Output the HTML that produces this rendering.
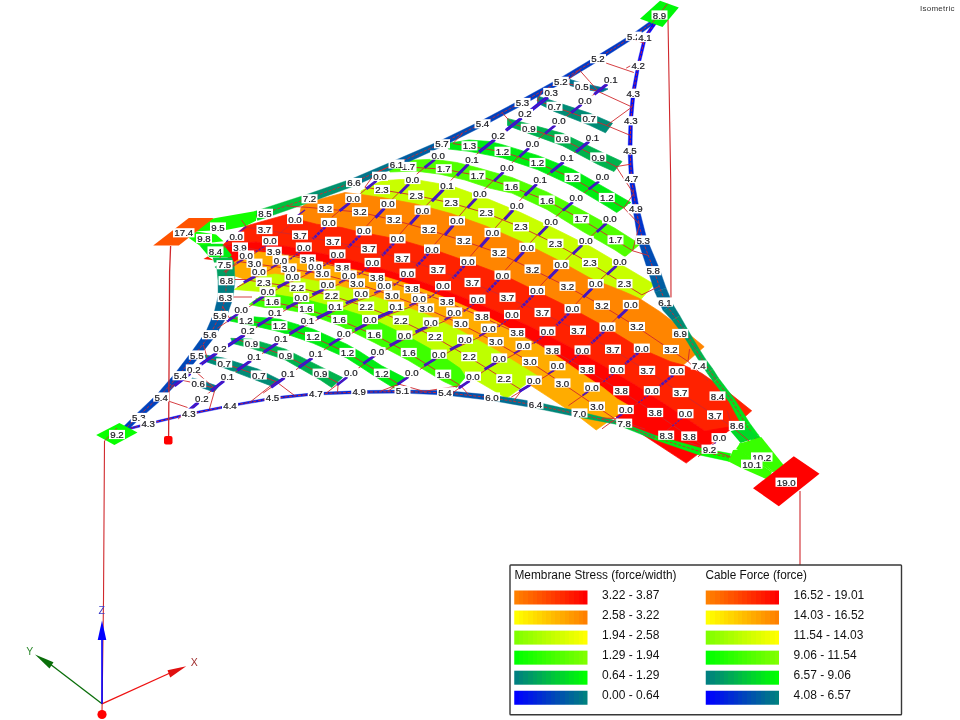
<!DOCTYPE html>
<html><head><meta charset="utf-8"><title>Isometric</title>
<style>
html,body{margin:0;padding:0;background:#fff;}
body{width:960px;height:720px;overflow:hidden;font-family:"Liberation Sans",sans-serif;}
svg{display:block;will-change:transform;}
svg text{font-family:"Liberation Sans",sans-serif;}
#labels text{stroke:#1a1a20;stroke-width:0.22px;}
</style></head><body>
<svg width="960" height="720" viewBox="0 0 960 720">
<rect width="960" height="720" fill="#fff"/>
<g id="bands">
<polygon points="570,79.5 581.8,83 608,89 602,92 581.8,89 570,85.5" fill="#00738d" stroke="#00738d" stroke-width="0.7" stroke-linejoin="round"/>
<polygon points="537.5,96 554.5,101.5 589.2,113 612.5,123.2 605.5,132.8 589.2,125 554.5,111.5 537.5,103" fill="#008b75" stroke="#008b75" stroke-width="0.7" stroke-linejoin="round"/>
<polygon points="507.5,118.5 528.8,124 562.5,133.3 598.2,150.5 622,161.5 614,171.5 598.2,164.5 562.5,145.7 528.8,133.4 507.5,125.5" fill="#00b24d" stroke="#00b24d" stroke-width="0.7" stroke-linejoin="round"/>
<polygon points="448.3,143.3 469,140 490,141.5 502.5,144.7 537.5,155.4 572.5,169.2 606.8,188.7 630.8,202.5 616.7,212.5 606.8,206.3 572.5,185.8 537.5,169.6 502.5,157.8 469,151.3 448.3,149" fill="#00ed12" stroke="#00ed12" stroke-width="0.7" stroke-linejoin="round"/>
<polygon points="388.3,168.3 410,160.3 433.3,159.2 456.7,162.5 476.7,167.5 511.9,177.5 546.9,191.9 581.7,210 615,228.3 640,244.2 625,256.7 615,250 581.7,230.8 546.9,209.4 511.9,193.1 490,188.3 465,180 440,174.2 415,171 390,172" fill="#51ff00" stroke="#51ff00" stroke-width="0.7" stroke-linejoin="round"/>
<polygon points="361,191 370,186 382.5,180.8 400,179.5 416.3,179.7 451.3,185.8 485.8,198 521.2,212.8 555.8,229.2 590.8,246.7 624.7,266.7 654.2,284.2 639.2,301.3 625,295 591,281.5 556,262 521,244.5 486,229 451,216.5 416,207 382,200.5 361,197.5" fill="#c8ff00" stroke="#c8ff00" stroke-width="0.7" stroke-linejoin="round"/>
<polygon points="300,213 301,207.5 307.5,202.5 318.8,199.4 345,192.5 361,194.5 382,197.5 416,204 451,213.5 486,226 521,241.5 556,259 591,278.5 625,292 639.2,298.3 660,311.7 680,326.7 704.2,346.7 683.3,365 670.8,364.7 641.7,352.2 607.2,331 572.3,311.7 537.5,294.7 503.3,278 468,264.7 432.5,252.2 398,242.2 360,235 341.7,230.5 316.7,227.2 300,223" fill="#ff8500" stroke="#ff8500" stroke-width="0.7" stroke-linejoin="round"/>
<polygon points="222,245.5 245.2,226.2 286.7,214.5 291,218 300,220 316.7,224.2 341.7,227.5 360,232 398,239.2 432.5,249.2 468,261.7 503.3,275 537.5,291.7 572.3,308.7 607.2,328 641.7,349.2 670.8,361.7 683.3,365 701.7,373.3 726.7,390.8 751.7,410.8 731.7,428.3 705,431 671,408 637,386 603,365.5 568,346 533,328 498,312 463,297.5 428,284 393,272 358,262 324,254 290,247 256,242 222,245.5" fill="#ff2200" stroke="#ff2200" stroke-width="0.7" stroke-linejoin="round"/>
<polygon points="222,245.5 256,242 290,247 324,254 358,262 393,272 428,284 463,297.5 498,312 533,328 568,346 603,365.5 637,386 671,408 705,431 735,426 686.2,463.1 616.2,417.2 590,383 561,362.8 536,347 517,336.5 481.7,317.5 446.7,302.3 411.7,289 376.7,278.2 342.5,271.5 326.7,267.5 308.3,262.5 293.3,259.8 275,257.3 256.7,255.7 243.3,260.7 232.5,266 222,245.5" fill="#ff0400" stroke="#ff0400" stroke-width="0.7" stroke-linejoin="round"/>
<polygon points="232.5,263.3 243.3,256.7 256.7,251.7 275,253.3 293.3,255.8 308.3,258.5 326.7,263.5 342.5,267.5 376.7,274.2 411.7,285 446.7,298.3 481.7,313.5 517,332.5 536,343 561,358.8 590,379 603,387.5 617.5,399 630,406.2 596.2,430 580,417.5 527.2,383.1 495.8,353 460.8,333.8 426.7,317.5 395.8,306.7 356.7,293.8 326.7,286 292.5,279.7 275,277 262,279 250,281 235,276" fill="#ffac00" stroke="#ffac00" stroke-width="0.7" stroke-linejoin="round"/>
<polygon points="250,278 262,276 275,274 292.5,276.7 326.7,283 356.7,290.8 395.8,303.7 426.7,314.5 460.8,330.8 495.8,350 520,365 537.3,375.7 506.7,398.3 462,372 438.3,356.3 404.2,337.2 369.2,320.5 340,311.5 305.8,302.5 275,297.5 260,291.5 234.5,289.5" fill="#beff00" stroke="#beff00" stroke-width="0.7" stroke-linejoin="round"/>
<polygon points="249,304.5 260,296.5 275,294.5 305.8,299.5 340,308.5 369.2,317.5 404.2,334.2 438.3,353.3 460,368.3 465.8,376.7 456.7,387.5 443.3,381.3 408.3,360.3 374.2,342.5 340,325.8 305.8,313.3 280,308.5 265,307.5 249,304.5" fill="#3eff00" stroke="#3eff00" stroke-width="0.7" stroke-linejoin="round"/>
<polygon points="230,317 250,316.5 279.7,319.2 313.3,329.2 346.7,344.2 360,351.7 381.7,365.8 405.8,378.3 394.2,388.3 376.7,377.5 360,366.5 346.7,358 313.3,343.3 279.7,331.7 250,325 230,321" fill="#00ed12" stroke="#00ed12" stroke-width="0.7" stroke-linejoin="round"/>
<polygon points="230.8,338.3 251.7,339.2 285.5,349.2 320.5,366.7 342.5,377.5 331.7,387.5 320.5,380 285.5,360 251.7,348.3 233,343.5" fill="#00b24d" stroke="#00b24d" stroke-width="0.7" stroke-linejoin="round"/>
<polygon points="205,355 223.3,358 258.3,369.2 280,380 273.3,386.7 258.3,381 223.3,367.5 207,362" fill="#008b75" stroke="#008b75" stroke-width="0.7" stroke-linejoin="round"/>
<polygon points="192,378 200,380 218.5,386.5 214,392 200,387 193,384" fill="#007789" stroke="#007789" stroke-width="0.7" stroke-linejoin="round"/>
</g>
<g id="cables">
<polygon points="257.5,220.4 266.5,217.5 263.5,208.5 254.5,211.4" fill="#00e31d" stroke="#00e31d" stroke-width="0.4"/>
<polygon points="266.5,217.5 310.9,202 308.1,194 263.5,208.5" fill="#00c13e" stroke="#00c13e" stroke-width="0.4"/>
<polygon points="310.9,202 355.4,185.5 352.6,178.5 308.1,194" fill="#00916f" stroke="#00916f" stroke-width="0.4"/>
<polygon points="355.4,185.5 397.9,166.7 395.1,160.3 352.6,178.5" fill="#00758b" stroke="#00758b" stroke-width="0.4"/>
<polygon points="397.9,166.7 443.3,146 440.7,140.5 395.1,160.3" fill="#005ea2" stroke="#005ea2" stroke-width="0.4"/>
<polygon points="443.3,146 483.8,125.7 481.2,120.8 440.7,140.5" fill="#004cb4" stroke="#004cb4" stroke-width="0.4"/>
<polygon points="483.8,125.7 523.8,104.4 521.2,99.6 481.2,120.8" fill="#0041be" stroke="#0041be" stroke-width="0.4"/>
<polygon points="523.8,104.4 562.1,83.1 559.4,78.4 521.2,99.6" fill="#003cc3" stroke="#003cc3" stroke-width="0.4"/>
<polygon points="562.1,83.1 599.3,60.4 596.7,56.1 559.4,78.4" fill="#003ac6" stroke="#003ac6" stroke-width="0.4"/>
<polygon points="599.3,60.4 635,37.6 632.5,33.9 596.7,56.1" fill="#003ac6" stroke="#003ac6" stroke-width="0.4"/>
<polygon points="635,37.6 654.3,23.8 651.7,20.2 632.5,33.9" fill="#003ac6" stroke="#003ac6" stroke-width="0.4"/>
<polyline points="256,215.9 265,213 309.5,198 354,182 396.5,163.5 442,143.2 482.5,123.2 522.5,102 560.8,80.8 598,58.2 633.8,35.8 653,22" fill="none" stroke="#d0282c" stroke-width="0.9" stroke-dasharray="3 1.5"/>
<polygon points="653.8,22.1 643.6,36.9 646.4,38.1 656.2,23.9" fill="#0001fe" stroke="#0001fe" stroke-width="0.4"/>
<polygon points="643.6,36.9 636.8,65.2 639.7,65.8 646.4,38.1" fill="#0004fb" stroke="#0004fb" stroke-width="0.4"/>
<polygon points="636.8,65.2 631.5,93 635,93.5 639.7,65.8" fill="#0009f6" stroke="#0009f6" stroke-width="0.4"/>
<polygon points="631.5,93 629,120.6 632.5,120.9 635,93.5" fill="#000bf4" stroke="#000bf4" stroke-width="0.4"/>
<polygon points="629,120.6 628,150 632,150 632.5,120.9" fill="#0010ef" stroke="#0010ef" stroke-width="0.4"/>
<polygon points="628,150 629.3,178.7 633.7,178.3 632,150" fill="#001be4" stroke="#001be4" stroke-width="0.4"/>
<polygon points="629.3,178.7 633,209.3 639,208.2 633.7,178.3" fill="#0025da" stroke="#0025da" stroke-width="0.4"/>
<polygon points="633,209.3 638.2,241.2 646.8,238.8 639,208.2" fill="#0034cb" stroke="#0034cb" stroke-width="0.4"/>
<polygon points="638.2,241.2 648.6,272.7 659.4,268.8 646.8,238.8" fill="#004cb4" stroke="#004cb4" stroke-width="0.4"/>
<polygon points="648.6,272.7 654.9,292.1 666.1,287.9 659.4,268.8" fill="#005ea2" stroke="#005ea2" stroke-width="0.4"/>
<polygon points="654.9,292.1 663,310.4 673,304.6 666.1,287.9" fill="#006a95" stroke="#006a95" stroke-width="0.4"/>
<polygon points="663,310.4 672.3,320.6 679.7,315.4 673,304.6" fill="#007c83" stroke="#007c83" stroke-width="0.4"/>
<polygon points="672.3,320.6 680,330.4 686,326.6 679.7,315.4" fill="#008e72" stroke="#008e72" stroke-width="0.4"/>
<polygon points="680,330.4 687.2,341.7 692.8,338.3 686,326.6" fill="#009e62" stroke="#009e62" stroke-width="0.4"/>
<polygon points="687.2,341.7 693.2,351.7 698.8,348.3 692.8,338.3" fill="#00aa55" stroke="#00aa55" stroke-width="0.4"/>
<polygon points="693.2,351.7 700.3,362.8 705.7,359.2 698.8,348.3" fill="#00b24e" stroke="#00b24e" stroke-width="0.4"/>
<polygon points="700.3,362.8 707.1,373 712.9,369 705.7,359.2" fill="#00b748" stroke="#00b748" stroke-width="0.4"/>
<polygon points="707.1,373 713.4,381.9 718.6,378.1 712.9,369" fill="#00bf41" stroke="#00bf41" stroke-width="0.4"/>
<polygon points="713.4,381.9 729,401.7 734,398.3 718.6,378.1" fill="#00d12f" stroke="#00d12f" stroke-width="0.4"/>
<polygon points="729,401.7 743.1,427.7 749.9,423.3 734,398.3" fill="#00e31d" stroke="#00e31d" stroke-width="0.4"/>
<polygon points="743.1,427.7 751.1,440 758.5,435 749.9,423.3" fill="#00e31d" stroke="#00e31d" stroke-width="0.4"/>
<polygon points="751.1,440 755.2,446.4 762.8,441.6 758.5,435" fill="#00dd22" stroke="#00dd22" stroke-width="0.4"/>
<polyline points="655,23 645,37.5 638.2,65.5 633.2,93.2 630.8,120.8 630,150 631.5,178.5 636,208.8 642.5,240 654,270.8 660.5,290 668,307.5 676,318 683,328.5 690,340 696,350 703,361 710,371 716,380 731.5,400 746.5,425.5 754.8,437.5 759,444" fill="none" stroke="#d0282c" stroke-width="0.9" stroke-dasharray="3 1.5"/>
<polygon points="126.2,430.5 148.5,424.8 148,422.8 125.8,428.5" fill="#000bf4" stroke="#000bf4" stroke-width="0.4"/>
<polygon points="148.5,424.8 189,415 188.5,413.1 148,422.8" fill="#000bf4" stroke="#000bf4" stroke-width="0.4"/>
<polygon points="189,415 230.2,406.8 229.8,404.8 188.5,413.1" fill="#000ef1" stroke="#000ef1" stroke-width="0.4"/>
<polygon points="230.2,406.8 272.7,399.5 272.3,397.1 229.8,404.8" fill="#0013ec" stroke="#0013ec" stroke-width="0.4"/>
<polygon points="272.7,399.5 315.8,395 315.7,392.6 272.3,397.1" fill="#001be4" stroke="#001be4" stroke-width="0.4"/>
<polygon points="315.8,395 359.3,393.5 359.2,390.6 315.7,392.6" fill="#0025da" stroke="#0025da" stroke-width="0.4"/>
<polygon points="359.3,393.5 402.5,393.1 402.5,390 359.2,390.6" fill="#002fd0" stroke="#002fd0" stroke-width="0.4"/>
<polygon points="402.5,393.1 444.8,395 445.2,390.6 402.5,390" fill="#003cc3" stroke="#003cc3" stroke-width="0.4"/>
<polygon points="444.8,395 491.6,400.5 492.4,395.1 445.2,390.6" fill="#0053ac" stroke="#0053ac" stroke-width="0.4"/>
<polygon points="491.6,400.5 534.9,408.1 536.1,402 492.4,395.1" fill="#006d93" stroke="#006d93" stroke-width="0.4"/>
<polygon points="534.9,408.1 578.9,417.2 580.1,411.8 536.1,402" fill="#008779" stroke="#008779" stroke-width="0.4"/>
<polygon points="578.9,417.2 615.7,424.2 616.8,420.8 580.1,411.8" fill="#00aa55" stroke="#00aa55" stroke-width="0.4"/>
<polygon points="615.7,424.2 654.3,439.6 655.7,435.4 616.8,420.8" fill="#00cc34" stroke="#00cc34" stroke-width="0.4"/>
<polygon points="654.3,439.6 699.1,454.9 700.9,448.1 655.7,435.4" fill="#00ef10" stroke="#00ef10" stroke-width="0.4"/>
<polygon points="699.1,454.9 729.2,461.4 730.8,453.6 700.9,448.1" fill="#07ff00" stroke="#07ff00" stroke-width="0.4"/>
<polyline points="126,429.5 148.2,423.8 188.8,414.1 230,405.8 272.5,398.3 315.8,393.8 359.2,392.1 402.5,391.6 445,392.8 492,397.8 535.5,405.1 579.5,414.5 616.2,422.5 655,437.5 700,451.5 730,457.5" fill="none" stroke="#d0282c" stroke-width="0.9" stroke-dasharray="3 1.5"/>
<polygon points="214.9,267 216.9,268.8 234.1,263.2 231.1,257" fill="#00b050" stroke="#00b050" stroke-width="0.4"/>
<polygon points="216.9,268.8 218,280.8 235,280.7 234.1,263.2" fill="#009e62" stroke="#009e62" stroke-width="0.4"/>
<polygon points="218,280.8 218.1,296.2 232.9,298.8 235,280.7" fill="#007f81" stroke="#007f81" stroke-width="0.4"/>
<polygon points="218.1,296.2 214,313 226,318 232.9,298.8" fill="#006898" stroke="#006898" stroke-width="0.4"/>
<polygon points="214,313 205.8,332.1 214.2,337.4 226,318" fill="#0056aa" stroke="#0056aa" stroke-width="0.4"/>
<polygon points="205.8,332.1 191.2,352.3 198.3,357.7 214.2,337.4" fill="#004cb4" stroke="#004cb4" stroke-width="0.4"/>
<polygon points="191.2,352.3 175.3,373.1 181.7,378.4 198.3,357.7" fill="#0046b9" stroke="#0046b9" stroke-width="0.4"/>
<polygon points="175.3,373.1 156.8,394.5 161.7,399.5 181.7,378.4" fill="#0044bc" stroke="#0044bc" stroke-width="0.4"/>
<polygon points="156.8,394.5 134.8,415.4 138.7,419.6 161.7,399.5" fill="#0041be" stroke="#0041be" stroke-width="0.4"/>
<polygon points="134.8,415.4 122.1,428 125.9,432 138.7,419.6" fill="#003fc1" stroke="#003fc1" stroke-width="0.4"/>
<polyline points="223,262 225.5,266 226.5,280.8 225.5,297.5 220,315.5 210,334.8 194.8,355 178.5,375.8 159.2,397 136.8,417.5 124,430" fill="none" stroke="#d0282c" stroke-width="0.9" stroke-dasharray="3 1.5"/>
</g>
<g id="corners">
<polygon points="730.6,431.2 745,427 758.8,436.9 740.6,443.1" fill="#00d827"/>
<polygon points="738.8,443.8 761.2,436.9 785.6,467.5 773.8,471.9" fill="#38ff00"/>
<polygon points="728.1,461.2 733.1,450 738.8,449.4 771.9,471.9 768.5,480 741.2,468.1" fill="#38ff00"/>
<polygon points="736.2,448.8 740,443.1 773.8,471.9 771.9,471.9" fill="#38ff00"/>
<polygon points="196.8,223.7 214.3,218.2 256,211 256,220.8 245.2,226.2 226,229.9 196.8,231.2" fill="#12ff00"/>
<polygon points="186.8,236.6 196.8,231.6 216,234.5 223.5,241.2 212,242.5 209.3,245.3 199.3,245.3" fill="#12ff00"/>
<polygon points="199.3,245.3 212.7,243.7 222.7,243.7 231.8,255.3 229.3,257.4 209.3,257" fill="#00ed12"/>
<polygon points="212.7,257.4 231.8,257.4 233.5,262.5 214,262.5" fill="#00ba46"/>
<polygon points="203.5,259 207.7,256.6 213.5,260.3" fill="#ff1a00"/>
<polygon points="188.8,218 213.8,218 178.8,245.5 153.2,245.5" fill="#ff5300"/>
<polygon points="660,0.8 678.8,7.5 662.5,27 640,18.8" fill="#00f708"/>
<polygon points="96.2,435 119.4,423.1 137.5,432.5 114.4,445" fill="#07ff00"/>
<polygon points="793.8,456.2 819.5,473.8 778.8,506.2 753,488.2" fill="#ff0100"/>
</g>
<g id="net" stroke="#d0282c" stroke-width="0.9" fill="none">
<polyline points="563.8,82.8 581.8,86.8 599.8,91.8"/>
<polyline points="537.1,100.5 554.5,106.8 589.2,119.2 606.6,125.5"/>
<polyline points="511.9,123.5 528.8,128.8 562.5,139.2 598.2,157.5 616.1,166.6"/>
<polyline points="453,143.5 469.5,146.2 502.5,151.8 537.5,163 572.5,178 606.8,198 623.9,208"/>
<polyline points="390.9,165.9 408.5,167 443.8,169.2 477.5,175.5 511.5,186.8 546.8,200.5 581.2,219.2 615.5,240.2 632.6,250.8"/>
<polyline points="364.9,187.2 382,190 416.2,195.5 451.2,203 486.2,213.2 521,227.2 555.5,243.8 590,263.2 624.5,284.2 641.8,294.8"/>
<polyline points="308.2,207.4 325.5,209 360,212.2 393.8,220 428.8,229.8 463.8,241 498.8,253.2 532.5,269.5 567.5,286.8 602,305.5 637,327 671,350 688,361.5"/>
<polyline points="246.8,227.2 264.5,230 300,235.5 333,241.8 368.8,249.2 402.2,258.5 437.5,270 472.5,283 507.5,297.8 542.5,313 578,330.8 613,349.8 647.2,370.9 680.6,393 715,415.5 732.2,426.8"/>
<polyline points="223.1,245.4 240,247.5 273.8,251.8 307.8,259.5 342.5,268 376.8,278 411.8,289.2 446.8,302.2 481.8,316.8 517.2,333.2 552.5,350.5 586.8,370 621.2,391.2 655.2,413 689.2,436.5 706.2,448.2"/>
<polyline points="237.4,261.4 254.5,263.8 288.8,268.5 322.5,274.2 357,283.5 391.8,295.5 426.2,308.5 460.8,324 495.8,342.2 530,362 562.5,383.5 597,406.8 614.2,418.4"/>
<polyline points="246.9,280 263.8,282.5 297.5,287.5 331.5,295.8 366.2,306.8 400.8,320.5 435,337.2 469.2,357.2 504.2,379.2 521.8,390.2"/>
<polyline points="255.8,298.9 272.5,302.2 306,309 339.2,320 374.2,334.8 408.8,353 443.2,374.8 460.5,385.6"/>
<polyline points="228.9,317.6 245.8,320.5 279.5,326.2 313,337 347.5,353 381.8,373.8 398.9,384.1"/>
<polyline points="234.5,338.6 251.5,344.2 285.5,355.5 320.6,373.8 338.2,382.9"/>
<polyline points="207,357.5 224.2,363.5 258.8,375.5 276,381.5"/>
<polyline points="180.2,379.8 198.2,383.8 216.2,388.8"/>
<line x1="564.8" y1="82.8" x2="579.4" y2="70"/>
<line x1="598.8" y1="91.8" x2="579.4" y2="70"/>
<line x1="598.8" y1="91.8" x2="632" y2="107"/>
<line x1="537.1" y1="100.5" x2="541.6" y2="91.9"/>
<line x1="606.6" y1="125.5" x2="630.4" y2="135.4"/>
<line x1="606.6" y1="125.5" x2="632" y2="107"/>
<line x1="511.9" y1="123.5" x2="502.5" y2="113.1"/>
<line x1="616.1" y1="166.6" x2="630.8" y2="164.2"/>
<line x1="616.1" y1="166.6" x2="633.6" y2="193.6"/>
<line x1="453" y1="143.5" x2="462.2" y2="133.8"/>
<line x1="623.9" y1="208" x2="633.6" y2="193.6"/>
<line x1="623.9" y1="208" x2="639.5" y2="224.4"/>
<line x1="390.9" y1="165.9" x2="375.2" y2="173.2"/>
<line x1="632.6" y1="250.8" x2="648.2" y2="255.4"/>
<line x1="632.6" y1="250.8" x2="639.5" y2="224.4"/>
<line x1="364.9" y1="187.2" x2="375.2" y2="173.2"/>
<line x1="641.8" y1="294.8" x2="659.1" y2="286.4"/>
<line x1="308.2" y1="207.4" x2="287.2" y2="206"/>
<line x1="688" y1="361.5" x2="689.5" y2="349.2"/>
<line x1="688" y1="361.5" x2="708.1" y2="380.5"/>
<line x1="246.8" y1="227.2" x2="241.5" y2="220.1"/>
<line x1="732.2" y1="426.8" x2="727.1" y2="410.8"/>
<line x1="732.2" y1="426.8" x2="749.2" y2="441.2"/>
<line x1="223.1" y1="245.4" x2="220" y2="257.9"/>
<line x1="706.2" y1="448.2" x2="687.9" y2="442.2"/>
<line x1="706.2" y1="448.2" x2="730.6" y2="456.8"/>
<line x1="237.4" y1="261.4" x2="225.5" y2="272.8"/>
<line x1="614.2" y1="418.4" x2="601.9" y2="418.1"/>
<line x1="614.2" y1="418.4" x2="645.2" y2="429.2"/>
<line x1="521.8" y1="390.2" x2="513.8" y2="400.6"/>
<line x1="460.5" y1="385.6" x2="468.5" y2="394.5"/>
<line x1="460.5" y1="385.6" x2="423.8" y2="391.4"/>
<line x1="228.9" y1="317.6" x2="222.8" y2="306.5"/>
<line x1="398.9" y1="384.1" x2="380.9" y2="391"/>
<line x1="398.9" y1="384.1" x2="423.8" y2="391.4"/>
<line x1="338.2" y1="382.9" x2="337.5" y2="392.1"/>
<line x1="207" y1="357.5" x2="203.4" y2="344.9"/>
<line x1="276" y1="381.5" x2="294.1" y2="395.2"/>
<line x1="276" y1="381.5" x2="251.2" y2="401.2"/>
<line x1="181.2" y1="379.8" x2="170.9" y2="386.4"/>
<line x1="215.2" y1="388.8" x2="209.4" y2="409.1"/>
<line x1="215.2" y1="388.8" x2="188.6" y2="365.4"/>
<polyline points="178.1,419 192.2,407 218,385.2 244.8,365.2 271.5,347.5 298,329.8 325.8,315.2 351.8,302.8 374.8,294.8 398,282.2 422.5,258 447.5,229.8 470.5,202.8 497.5,176.5 523,152.5 549.2,129.8 575.5,109 601.2,88.5 615.4,77.2"/>
<polyline points="169.8,389.1 184.2,378 210.5,357.8 238.2,339.5 265.5,321.5 291.8,306.5 318,293.8 339.2,284 363,271.5 388,247.8 413,219 437.5,194 462.5,168.5 476.2,154.5"/>
<polyline points="263.2,393.1 278.5,382.2 306.2,362.5 334.2,342.8 360.5,328.5 386.8,315.2 409.8,307.2 433.5,294.8 458.5,270.2 483,241.5 507.2,214.5 530.8,188.5 557.5,166.5 583,146 597,134.7"/>
<polyline points="326.5,392.9 341.2,381.5 368,360.8 395,344 421.2,331 444.8,321 468,308.2 493,284 517.8,256.2 541.8,230.2 566.8,206.5 593,185.8 607.4,174.3"/>
<polyline points="217.3,328.3 231.8,318.5 258,300.8 283,285.8 305.5,275.2 328,263 354.2,239.8 378.5,212.8 403,188.5 416.5,175.2"/>
<polyline points="387.4,391.5 402.2,381.5 429.2,363.2 455.5,348.2 479.2,337.2 502.5,323.5 527.5,299.5 551.8,273.5 576.2,249.5 600.5,227.8 613.8,215.8"/>
<polyline points="449.1,395.3 463.5,385.2 489.8,367 514,354.5 538,340.2 563,317.8 586.2,292.8 610.5,270.2 623.8,257.9"/>
<polyline points="237.3,287.2 249.2,280.8 271,269 294.2,256 319.2,231.5 333,218"/>
<polyline points="511.2,397.2 524.2,389.2 548,374.8 573,359 598,336 621.2,313.5 634,301.1"/>
<polyline points="223.7,271.8 236.8,264 260.5,249.8 273.6,241.9"/>
<polyline points="568.5,405.6 582.2,396 607.2,378.5 632.2,357.2 646,345.6"/>
<polyline points="602,428.8 616.2,418.5 642.2,399.8 667.2,379.8 681,368.8"/>
<polyline points="664,432.8 676,422.8 688,412.8"/>
<polyline points="698,456.8 710,446.8 722,436.8"/>
<polyline points="529.8,111.5 541.8,101.5 553.8,91.5"/>
<polyline points="503.5,132.5 515.5,122.5 527.5,112.5"/>
<polyline points="476.8,154 488.8,144 500.8,134"/>
<polyline points="416.8,174 428.8,164 440.8,154"/>
<polyline points="358.5,195.2 370.5,185.2 382.5,175.2"/>
<polyline points="331.8,217.2 343.8,207.2 355.8,197.2"/>
<polyline points="273.5,238.5 285.5,228.5 297.5,218.5"/>
<polyline points="214.8,255.2 226.8,245.2 238.8,235.2"/>
</g>
<g id="dashes" stroke="#2a10e0" fill="none">
<line x1="607.2" y1="84" x2="594.3" y2="94.3" stroke-width="3"/>
<line x1="607.2" y1="84" x2="594.3" y2="94.3" stroke="#d0282c" stroke-width="0.6" stroke-opacity="0.7"/>
<line x1="547.8" y1="97" x2="529.4" y2="111.7" stroke-width="3.6"/>
<line x1="547.8" y1="97" x2="529.4" y2="111.7" stroke="#d0282c" stroke-width="0.6" stroke-opacity="0.7"/>
<line x1="521.5" y1="118" x2="505.9" y2="130.5" stroke-width="3.3"/>
<line x1="521.5" y1="118" x2="505.9" y2="130.5" stroke="#d0282c" stroke-width="0.6" stroke-opacity="0.7"/>
<line x1="494.8" y1="139.5" x2="479.1" y2="152" stroke-width="3.3"/>
<line x1="494.8" y1="139.5" x2="479.1" y2="152" stroke="#d0282c" stroke-width="0.6" stroke-opacity="0.7"/>
<line x1="434.8" y1="159.5" x2="424.6" y2="167.6" stroke-width="2.7"/>
<line x1="434.8" y1="159.5" x2="424.6" y2="167.6" stroke="#d0282c" stroke-width="0.6" stroke-opacity="0.7"/>
<line x1="376.5" y1="180.8" x2="366.3" y2="188.9" stroke-width="2.7"/>
<line x1="376.5" y1="180.8" x2="366.3" y2="188.9" stroke="#d0282c" stroke-width="0.6" stroke-opacity="0.7"/>
<line x1="349.8" y1="202.8" x2="339.6" y2="210.9" stroke-width="2.7"/>
<line x1="349.8" y1="202.8" x2="339.6" y2="210.9" stroke="#d0282c" stroke-width="0.6" stroke-opacity="0.7"/>
<line x1="305" y1="210" x2="292.2" y2="219.6" stroke-width="1.4"/>
<line x1="305" y1="210" x2="292.2" y2="219.6" stroke="#d0282c" stroke-width="0.6" stroke-opacity="0.7"/>
<line x1="246.2" y1="226.8" x2="226.2" y2="241.8" stroke-width="1.4"/>
<line x1="246.2" y1="226.8" x2="226.2" y2="241.8" stroke="#d0282c" stroke-width="0.6" stroke-opacity="0.7"/>
<line x1="581.5" y1="104.5" x2="571.3" y2="112.6" stroke-width="2.7"/>
<line x1="581.5" y1="104.5" x2="571.3" y2="112.6" stroke="#d0282c" stroke-width="0.6" stroke-opacity="0.7"/>
<line x1="555.2" y1="125.2" x2="545.2" y2="133.5" stroke-width="2.7"/>
<line x1="555.2" y1="125.2" x2="545.2" y2="133.5" stroke="#d0282c" stroke-width="0.6" stroke-opacity="0.7"/>
<line x1="589" y1="141.5" x2="576.1" y2="151.8" stroke-width="3"/>
<line x1="589" y1="141.5" x2="576.1" y2="151.8" stroke="#d0282c" stroke-width="0.6" stroke-opacity="0.7"/>
<line x1="529" y1="148" x2="519.4" y2="156.7" stroke-width="2.7"/>
<line x1="529" y1="148" x2="519.4" y2="156.7" stroke="#d0282c" stroke-width="0.6" stroke-opacity="0.7"/>
<line x1="563.5" y1="162" x2="550.7" y2="172.4" stroke-width="3"/>
<line x1="563.5" y1="162" x2="550.7" y2="172.4" stroke="#d0282c" stroke-width="0.6" stroke-opacity="0.7"/>
<line x1="599" y1="181.2" x2="588.8" y2="189.3" stroke-width="2.7"/>
<line x1="599" y1="181.2" x2="588.8" y2="189.3" stroke="#d0282c" stroke-width="0.6" stroke-opacity="0.7"/>
<line x1="468.5" y1="164" x2="456.9" y2="175.8" stroke-width="3"/>
<line x1="468.5" y1="164" x2="456.9" y2="175.8" stroke="#d0282c" stroke-width="0.6" stroke-opacity="0.7"/>
<line x1="503.5" y1="172" x2="494.1" y2="181" stroke-width="2.7"/>
<line x1="503.5" y1="172" x2="494.1" y2="181" stroke="#d0282c" stroke-width="0.6" stroke-opacity="0.7"/>
<line x1="536.8" y1="184" x2="524.8" y2="195.4" stroke-width="3"/>
<line x1="536.8" y1="184" x2="524.8" y2="195.4" stroke="#d0282c" stroke-width="0.6" stroke-opacity="0.7"/>
<line x1="572.8" y1="202" x2="562.9" y2="210.5" stroke-width="2.7"/>
<line x1="572.8" y1="202" x2="562.9" y2="210.5" stroke="#d0282c" stroke-width="0.6" stroke-opacity="0.7"/>
<line x1="606.5" y1="223.2" x2="596.8" y2="231.9" stroke-width="2.7"/>
<line x1="606.5" y1="223.2" x2="596.8" y2="231.9" stroke="#d0282c" stroke-width="0.6" stroke-opacity="0.7"/>
<line x1="409" y1="184" x2="399.8" y2="193.1" stroke-width="2.7"/>
<line x1="409" y1="184" x2="399.8" y2="193.1" stroke="#d0282c" stroke-width="0.6" stroke-opacity="0.7"/>
<line x1="443.5" y1="189.5" x2="431.9" y2="201.3" stroke-width="3"/>
<line x1="443.5" y1="189.5" x2="431.9" y2="201.3" stroke="#d0282c" stroke-width="0.6" stroke-opacity="0.7"/>
<line x1="476.5" y1="198.2" x2="467.6" y2="207.7" stroke-width="2.7"/>
<line x1="476.5" y1="198.2" x2="467.6" y2="207.7" stroke="#d0282c" stroke-width="0.6" stroke-opacity="0.7"/>
<line x1="513.2" y1="210" x2="504.5" y2="219.7" stroke-width="2.7"/>
<line x1="513.2" y1="210" x2="504.5" y2="219.7" stroke="#d0282c" stroke-width="0.6" stroke-opacity="0.7"/>
<line x1="547.8" y1="225.8" x2="538.6" y2="235" stroke-width="2.7"/>
<line x1="547.8" y1="225.8" x2="538.6" y2="235" stroke="#d0282c" stroke-width="0.6" stroke-opacity="0.7"/>
<line x1="582.2" y1="245" x2="572.8" y2="253.9" stroke-width="2.7"/>
<line x1="582.2" y1="245" x2="572.8" y2="253.9" stroke="#d0282c" stroke-width="0.6" stroke-opacity="0.7"/>
<line x1="616.5" y1="265.8" x2="607" y2="274.6" stroke-width="2.7"/>
<line x1="616.5" y1="265.8" x2="607" y2="274.6" stroke="#d0282c" stroke-width="0.6" stroke-opacity="0.7"/>
<line x1="384.5" y1="208.2" x2="375.5" y2="217.7" stroke-width="2.7"/>
<line x1="384.5" y1="208.2" x2="375.5" y2="217.7" stroke="#d0282c" stroke-width="0.6" stroke-opacity="0.7"/>
<line x1="419" y1="214.5" x2="410.2" y2="224.1" stroke-width="2.7"/>
<line x1="419" y1="214.5" x2="410.2" y2="224.1" stroke="#d0282c" stroke-width="0.6" stroke-opacity="0.7"/>
<line x1="453.5" y1="225.2" x2="445" y2="235.1" stroke-width="2.7"/>
<line x1="453.5" y1="225.2" x2="445" y2="235.1" stroke="#d0282c" stroke-width="0.6" stroke-opacity="0.7"/>
<line x1="489" y1="237" x2="480.4" y2="246.8" stroke-width="2.7"/>
<line x1="489" y1="237" x2="480.4" y2="246.8" stroke="#d0282c" stroke-width="0.6" stroke-opacity="0.7"/>
<line x1="523.8" y1="251.8" x2="515" y2="261.4" stroke-width="2.7"/>
<line x1="523.8" y1="251.8" x2="515" y2="261.4" stroke="#d0282c" stroke-width="0.6" stroke-opacity="0.7"/>
<line x1="557.8" y1="269" x2="548.7" y2="278.3" stroke-width="2.7"/>
<line x1="557.8" y1="269" x2="548.7" y2="278.3" stroke="#d0282c" stroke-width="0.6" stroke-opacity="0.7"/>
<line x1="592.2" y1="288.2" x2="583.1" y2="297.4" stroke-width="2.7"/>
<line x1="592.2" y1="288.2" x2="583.1" y2="297.4" stroke="#d0282c" stroke-width="0.6" stroke-opacity="0.7"/>
<line x1="627.2" y1="309" x2="617.9" y2="318" stroke-width="2.7"/>
<line x1="627.2" y1="309" x2="617.9" y2="318" stroke="#d0282c" stroke-width="0.6" stroke-opacity="0.7"/>
<line x1="325.2" y1="227" x2="313.1" y2="238.9" stroke-width="2.4" stroke-dasharray="3 1"/>
<line x1="325.2" y1="227" x2="313.1" y2="238.9" stroke="#d0282c" stroke-width="0.6" stroke-opacity="0.7"/>
<line x1="360.2" y1="235.2" x2="348.2" y2="247.2" stroke-width="2.4" stroke-dasharray="3 1"/>
<line x1="360.2" y1="235.2" x2="348.2" y2="247.2" stroke="#d0282c" stroke-width="0.6" stroke-opacity="0.7"/>
<line x1="394" y1="243.2" x2="382.3" y2="255.6" stroke-width="2.4" stroke-dasharray="3 1"/>
<line x1="394" y1="243.2" x2="382.3" y2="255.6" stroke="#d0282c" stroke-width="0.6" stroke-opacity="0.7"/>
<line x1="428.5" y1="253.5" x2="416.8" y2="265.9" stroke-width="2.4" stroke-dasharray="3 1"/>
<line x1="428.5" y1="253.5" x2="416.8" y2="265.9" stroke="#d0282c" stroke-width="0.6" stroke-opacity="0.7"/>
<line x1="464.5" y1="265.8" x2="452.9" y2="278.2" stroke-width="2.4" stroke-dasharray="3 1"/>
<line x1="464.5" y1="265.8" x2="452.9" y2="278.2" stroke="#d0282c" stroke-width="0.6" stroke-opacity="0.7"/>
<line x1="499" y1="279.5" x2="487.2" y2="291.8" stroke-width="2.4" stroke-dasharray="3 1"/>
<line x1="499" y1="279.5" x2="487.2" y2="291.8" stroke="#d0282c" stroke-width="0.6" stroke-opacity="0.7"/>
<line x1="533.5" y1="295" x2="521.6" y2="307.1" stroke-width="2.4" stroke-dasharray="3 1"/>
<line x1="533.5" y1="295" x2="521.6" y2="307.1" stroke="#d0282c" stroke-width="0.6" stroke-opacity="0.7"/>
<line x1="569" y1="313.2" x2="556.9" y2="325.2" stroke-width="2.4" stroke-dasharray="3 1"/>
<line x1="569" y1="313.2" x2="556.9" y2="325.2" stroke="#d0282c" stroke-width="0.6" stroke-opacity="0.7"/>
<line x1="604" y1="331.5" x2="591.6" y2="343.2" stroke-width="2.4" stroke-dasharray="3 1"/>
<line x1="604" y1="331.5" x2="591.6" y2="343.2" stroke="#d0282c" stroke-width="0.6" stroke-opacity="0.7"/>
<line x1="638.2" y1="352.8" x2="625.3" y2="363.8" stroke-width="2.4" stroke-dasharray="3 1"/>
<line x1="638.2" y1="352.8" x2="625.3" y2="363.8" stroke="#d0282c" stroke-width="0.6" stroke-opacity="0.7"/>
<line x1="673.2" y1="375.2" x2="660" y2="385.9" stroke-width="2.4" stroke-dasharray="3 1"/>
<line x1="673.2" y1="375.2" x2="660" y2="385.9" stroke="#d0282c" stroke-width="0.6" stroke-opacity="0.7"/>
<line x1="266.5" y1="245.2" x2="254.5" y2="252.5" stroke-width="1.2" stroke-dasharray="2 1.5"/>
<line x1="266.5" y1="245.2" x2="254.5" y2="252.5" stroke="#d0282c" stroke-width="0.6" stroke-opacity="0.7"/>
<line x1="300.2" y1="251.5" x2="289.2" y2="260.1" stroke-width="1.2" stroke-dasharray="2 1.5"/>
<line x1="300.2" y1="251.5" x2="289.2" y2="260.1" stroke="#d0282c" stroke-width="0.6" stroke-opacity="0.7"/>
<line x1="334" y1="258.5" x2="322.7" y2="266.7" stroke-width="1.2" stroke-dasharray="2 1.5"/>
<line x1="334" y1="258.5" x2="322.7" y2="266.7" stroke="#d0282c" stroke-width="0.6" stroke-opacity="0.7"/>
<line x1="369" y1="267" x2="357.8" y2="275.4" stroke-width="1.2" stroke-dasharray="2 1.5"/>
<line x1="369" y1="267" x2="357.8" y2="275.4" stroke="#d0282c" stroke-width="0.6" stroke-opacity="0.7"/>
<line x1="404" y1="277.8" x2="392.9" y2="286.3" stroke-width="1.2" stroke-dasharray="2 1.5"/>
<line x1="404" y1="277.8" x2="392.9" y2="286.3" stroke="#d0282c" stroke-width="0.6" stroke-opacity="0.7"/>
<line x1="439.5" y1="290.2" x2="428.3" y2="298.7" stroke-width="1.2" stroke-dasharray="2 1.5"/>
<line x1="439.5" y1="290.2" x2="428.3" y2="298.7" stroke="#d0282c" stroke-width="0.6" stroke-opacity="0.7"/>
<line x1="474" y1="303.8" x2="462.9" y2="312.3" stroke-width="1.2" stroke-dasharray="2 1.5"/>
<line x1="474" y1="303.8" x2="462.9" y2="312.3" stroke="#d0282c" stroke-width="0.6" stroke-opacity="0.7"/>
<line x1="508.5" y1="319" x2="497.5" y2="327.6" stroke-width="1.2" stroke-dasharray="2 1.5"/>
<line x1="508.5" y1="319" x2="497.5" y2="327.6" stroke="#d0282c" stroke-width="0.6" stroke-opacity="0.7"/>
<line x1="544" y1="335.8" x2="532.8" y2="344.1" stroke-width="1.2" stroke-dasharray="2 1.5"/>
<line x1="544" y1="335.8" x2="532.8" y2="344.1" stroke="#d0282c" stroke-width="0.6" stroke-opacity="0.7"/>
<line x1="579" y1="354.5" x2="567.9" y2="363.1" stroke-width="1.2" stroke-dasharray="2 1.5"/>
<line x1="579" y1="354.5" x2="567.9" y2="363.1" stroke="#d0282c" stroke-width="0.6" stroke-opacity="0.7"/>
<line x1="613.2" y1="374" x2="602.2" y2="382.6" stroke-width="1.2" stroke-dasharray="2 1.5"/>
<line x1="613.2" y1="374" x2="602.2" y2="382.6" stroke="#d0282c" stroke-width="0.6" stroke-opacity="0.7"/>
<line x1="648.2" y1="395.2" x2="637.1" y2="403.7" stroke-width="1.2" stroke-dasharray="2 1.5"/>
<line x1="648.2" y1="395.2" x2="637.1" y2="403.7" stroke="#d0282c" stroke-width="0.6" stroke-opacity="0.7"/>
<line x1="682" y1="418.2" x2="671.1" y2="427" stroke-width="1.2" stroke-dasharray="2 1.5"/>
<line x1="682" y1="418.2" x2="671.1" y2="427" stroke="#d0282c" stroke-width="0.6" stroke-opacity="0.7"/>
<line x1="716" y1="442.2" x2="705.1" y2="451" stroke-width="1.2" stroke-dasharray="2 1.5"/>
<line x1="716" y1="442.2" x2="705.1" y2="451" stroke="#d0282c" stroke-width="0.6" stroke-opacity="0.7"/>
<line x1="242.8" y1="259.5" x2="236.7" y2="263.1" stroke-width="1.6"/>
<line x1="242.8" y1="259.5" x2="236.7" y2="263.1" stroke="#d0282c" stroke-width="0.6" stroke-opacity="0.7"/>
<line x1="277" y1="264.5" x2="270.9" y2="267.9" stroke-width="1.6"/>
<line x1="277" y1="264.5" x2="270.9" y2="267.9" stroke="#d0282c" stroke-width="0.6" stroke-opacity="0.7"/>
<line x1="311.5" y1="270.8" x2="305.3" y2="273.9" stroke-width="1.6"/>
<line x1="311.5" y1="270.8" x2="305.3" y2="273.9" stroke="#d0282c" stroke-width="0.6" stroke-opacity="0.7"/>
<line x1="345.2" y1="279.5" x2="339" y2="282.6" stroke-width="1.6"/>
<line x1="345.2" y1="279.5" x2="339" y2="282.6" stroke="#d0282c" stroke-width="0.6" stroke-opacity="0.7"/>
<line x1="380.8" y1="290.2" x2="374.4" y2="293.1" stroke-width="1.6"/>
<line x1="380.8" y1="290.2" x2="374.4" y2="293.1" stroke="#d0282c" stroke-width="0.6" stroke-opacity="0.7"/>
<line x1="415.8" y1="302.8" x2="409.3" y2="305.6" stroke-width="1.6"/>
<line x1="415.8" y1="302.8" x2="409.3" y2="305.6" stroke="#d0282c" stroke-width="0.6" stroke-opacity="0.7"/>
<line x1="450.8" y1="316.5" x2="444.5" y2="319.6" stroke-width="1.6"/>
<line x1="450.8" y1="316.5" x2="444.5" y2="319.6" stroke="#d0282c" stroke-width="0.6" stroke-opacity="0.7"/>
<line x1="485.2" y1="332.8" x2="479.1" y2="336" stroke-width="1.6"/>
<line x1="485.2" y1="332.8" x2="479.1" y2="336" stroke="#d0282c" stroke-width="0.6" stroke-opacity="0.7"/>
<line x1="520" y1="350" x2="513.9" y2="353.4" stroke-width="1.6"/>
<line x1="520" y1="350" x2="513.9" y2="353.4" stroke="#d0282c" stroke-width="0.6" stroke-opacity="0.7"/>
<line x1="554" y1="370.2" x2="548.1" y2="373.9" stroke-width="1.6"/>
<line x1="554" y1="370.2" x2="548.1" y2="373.9" stroke="#d0282c" stroke-width="0.6" stroke-opacity="0.7"/>
<line x1="588.2" y1="391.5" x2="582.5" y2="395.5" stroke-width="1.6"/>
<line x1="588.2" y1="391.5" x2="582.5" y2="395.5" stroke="#d0282c" stroke-width="0.6" stroke-opacity="0.7"/>
<line x1="622.2" y1="414" x2="616.6" y2="418.1" stroke-width="1.6"/>
<line x1="622.2" y1="414" x2="616.6" y2="418.1" stroke="#d0282c" stroke-width="0.6" stroke-opacity="0.7"/>
<line x1="255.2" y1="276.2" x2="243.8" y2="282.4" stroke-width="2.7"/>
<line x1="255.2" y1="276.2" x2="243.8" y2="282.4" stroke="#d0282c" stroke-width="0.6" stroke-opacity="0.7"/>
<line x1="289" y1="281.2" x2="277.5" y2="287.4" stroke-width="2.7"/>
<line x1="289" y1="281.2" x2="277.5" y2="287.4" stroke="#d0282c" stroke-width="0.6" stroke-opacity="0.7"/>
<line x1="324" y1="289.2" x2="312.3" y2="294.8" stroke-width="2.7"/>
<line x1="324" y1="289.2" x2="312.3" y2="294.8" stroke="#d0282c" stroke-width="0.6" stroke-opacity="0.7"/>
<line x1="357.8" y1="298.2" x2="345.8" y2="303.3" stroke-width="2.7"/>
<line x1="357.8" y1="298.2" x2="345.8" y2="303.3" stroke="#d0282c" stroke-width="0.6" stroke-opacity="0.7"/>
<line x1="392.8" y1="310.8" x2="377.6" y2="317.3" stroke-width="3"/>
<line x1="392.8" y1="310.8" x2="377.6" y2="317.3" stroke="#d0282c" stroke-width="0.6" stroke-opacity="0.7"/>
<line x1="427.2" y1="326.5" x2="415.5" y2="332" stroke-width="2.7"/>
<line x1="427.2" y1="326.5" x2="415.5" y2="332" stroke="#d0282c" stroke-width="0.6" stroke-opacity="0.7"/>
<line x1="461.5" y1="343.8" x2="450" y2="349.7" stroke-width="2.7"/>
<line x1="461.5" y1="343.8" x2="450" y2="349.7" stroke="#d0282c" stroke-width="0.6" stroke-opacity="0.7"/>
<line x1="495.8" y1="362.5" x2="484.6" y2="369.3" stroke-width="2.7"/>
<line x1="495.8" y1="362.5" x2="484.6" y2="369.3" stroke="#d0282c" stroke-width="0.6" stroke-opacity="0.7"/>
<line x1="530.2" y1="384.8" x2="519.2" y2="391.5" stroke-width="2.7"/>
<line x1="530.2" y1="384.8" x2="519.2" y2="391.5" stroke="#d0282c" stroke-width="0.6" stroke-opacity="0.7"/>
<line x1="264" y1="296.2" x2="253" y2="303.3" stroke-width="2.7"/>
<line x1="264" y1="296.2" x2="253" y2="303.3" stroke="#d0282c" stroke-width="0.6" stroke-opacity="0.7"/>
<line x1="297.8" y1="302" x2="286.3" y2="308.1" stroke-width="2.7"/>
<line x1="297.8" y1="302" x2="286.3" y2="308.1" stroke="#d0282c" stroke-width="0.6" stroke-opacity="0.7"/>
<line x1="331.8" y1="310.8" x2="317" y2="318.2" stroke-width="3"/>
<line x1="331.8" y1="310.8" x2="317" y2="318.2" stroke="#d0282c" stroke-width="0.6" stroke-opacity="0.7"/>
<line x1="366.5" y1="324" x2="355" y2="330" stroke-width="2.7"/>
<line x1="366.5" y1="324" x2="355" y2="330" stroke="#d0282c" stroke-width="0.6" stroke-opacity="0.7"/>
<line x1="401" y1="339.5" x2="389.7" y2="345.8" stroke-width="2.7"/>
<line x1="401" y1="339.5" x2="389.7" y2="345.8" stroke="#d0282c" stroke-width="0.6" stroke-opacity="0.7"/>
<line x1="435.2" y1="358.8" x2="424.2" y2="365.6" stroke-width="2.7"/>
<line x1="435.2" y1="358.8" x2="424.2" y2="365.6" stroke="#d0282c" stroke-width="0.6" stroke-opacity="0.7"/>
<line x1="469.5" y1="380.8" x2="458.8" y2="388.2" stroke-width="2.7"/>
<line x1="469.5" y1="380.8" x2="458.8" y2="388.2" stroke="#d0282c" stroke-width="0.6" stroke-opacity="0.7"/>
<line x1="237.8" y1="314" x2="227" y2="321.3" stroke-width="2.7"/>
<line x1="237.8" y1="314" x2="227" y2="321.3" stroke="#d0282c" stroke-width="0.6" stroke-opacity="0.7"/>
<line x1="271.5" y1="317" x2="257.5" y2="325.7" stroke-width="3"/>
<line x1="271.5" y1="317" x2="257.5" y2="325.7" stroke="#d0282c" stroke-width="0.6" stroke-opacity="0.7"/>
<line x1="304" y1="325.2" x2="289.8" y2="333.7" stroke-width="3"/>
<line x1="304" y1="325.2" x2="289.8" y2="333.7" stroke="#d0282c" stroke-width="0.6" stroke-opacity="0.7"/>
<line x1="340.2" y1="338.2" x2="329.2" y2="345.2" stroke-width="2.7"/>
<line x1="340.2" y1="338.2" x2="329.2" y2="345.2" stroke="#d0282c" stroke-width="0.6" stroke-opacity="0.7"/>
<line x1="374" y1="356.2" x2="363.3" y2="363.7" stroke-width="2.7"/>
<line x1="374" y1="356.2" x2="363.3" y2="363.7" stroke="#d0282c" stroke-width="0.6" stroke-opacity="0.7"/>
<line x1="408.2" y1="377" x2="397.5" y2="384.3" stroke-width="2.7"/>
<line x1="408.2" y1="377" x2="397.5" y2="384.3" stroke="#d0282c" stroke-width="0.6" stroke-opacity="0.7"/>
<line x1="244.2" y1="335" x2="227.6" y2="346" stroke-width="3.3"/>
<line x1="244.2" y1="335" x2="227.6" y2="346" stroke="#d0282c" stroke-width="0.6" stroke-opacity="0.7"/>
<line x1="277.5" y1="343" x2="263.8" y2="352.2" stroke-width="3"/>
<line x1="277.5" y1="343" x2="263.8" y2="352.2" stroke="#d0282c" stroke-width="0.6" stroke-opacity="0.7"/>
<line x1="312.2" y1="358" x2="298.8" y2="367.5" stroke-width="3"/>
<line x1="312.2" y1="358" x2="298.8" y2="367.5" stroke="#d0282c" stroke-width="0.6" stroke-opacity="0.7"/>
<line x1="347.2" y1="377" x2="337" y2="385" stroke-width="2.7"/>
<line x1="347.2" y1="377" x2="337" y2="385" stroke="#d0282c" stroke-width="0.6" stroke-opacity="0.7"/>
<line x1="216.5" y1="353.2" x2="200.2" y2="364.9" stroke-width="3.3"/>
<line x1="216.5" y1="353.2" x2="200.2" y2="364.9" stroke="#d0282c" stroke-width="0.6" stroke-opacity="0.7"/>
<line x1="250.8" y1="360.8" x2="237.3" y2="370.3" stroke-width="3"/>
<line x1="250.8" y1="360.8" x2="237.3" y2="370.3" stroke="#d0282c" stroke-width="0.6" stroke-opacity="0.7"/>
<line x1="284.5" y1="377.8" x2="271.1" y2="387.3" stroke-width="3"/>
<line x1="284.5" y1="377.8" x2="271.1" y2="387.3" stroke="#d0282c" stroke-width="0.6" stroke-opacity="0.7"/>
<line x1="190.2" y1="373.5" x2="174.4" y2="385.7" stroke-width="3.3"/>
<line x1="190.2" y1="373.5" x2="174.4" y2="385.7" stroke="#d0282c" stroke-width="0.6" stroke-opacity="0.7"/>
<line x1="224" y1="380.8" x2="211.1" y2="391" stroke-width="3"/>
<line x1="224" y1="380.8" x2="211.1" y2="391" stroke="#d0282c" stroke-width="0.6" stroke-opacity="0.7"/>
<line x1="198.2" y1="402.5" x2="183" y2="415.4" stroke-width="3.3"/>
<line x1="198.2" y1="402.5" x2="183" y2="415.4" stroke="#d0282c" stroke-width="0.6" stroke-opacity="0.7"/>
</g>
<g id="supports">
<polyline points="104.5,441 103.5,600 102,712" fill="none" stroke="#d0282c" stroke-width="1.1"/>
<polyline points="170.6,246 169.6,272 168.6,438" fill="none" stroke="#d0282c" stroke-width="1.3"/>
<rect x="164" y="436" width="8.5" height="8.5" rx="2" fill="#ff0000"/>
<polyline points="668,20 670.7,180 671,304" fill="none" stroke="#d0282c" stroke-width="1.1"/>
<polyline points="800,491 800,565" fill="none" stroke="#d0282c" stroke-width="1.1"/>
<polyline points="231,279.5 247,279.5" fill="none" stroke="#d0282c" stroke-width="0.9"/>
<polyline points="652.5,22.5 667.5,3.8" fill="none" stroke="#d0282c" stroke-width="0.9"/>
<polyline points="606.2,63.1 633.8,72.5" fill="none" stroke="#d0282c" stroke-width="0.9"/>
<polyline points="626.2,68.1 631.9,65" fill="none" stroke="#d0282c" stroke-width="0.9"/>
<polyline points="635,40 643.8,43.1" fill="none" stroke="#d0282c" stroke-width="0.9"/>
<polyline points="104.5,441 117,428" fill="none" stroke="#d0282c" stroke-width="0.9"/>
<polyline points="230,297 252,297" fill="none" stroke="#d0282c" stroke-width="0.9"/>
<polyline points="168.8,401.2 187.5,407.5" fill="none" stroke="#d0282c" stroke-width="0.9"/>
</g>
<g id="labels" font-family="Liberation Sans, sans-serif" font-size="9.7" fill="#1a1a20" text-anchor="middle">
<rect x="573.8" y="81.7" width="16" height="9.2" fill="#fff"/>
<text x="581.8" y="89.8">0.5</text>
<rect x="546.5" y="101.7" width="16" height="9.2" fill="#fff"/>
<text x="554.5" y="109.8">0.7</text>
<rect x="581.2" y="114.2" width="16" height="9.2" fill="#fff"/>
<text x="589.2" y="122.2">0.7</text>
<rect x="520.8" y="123.7" width="16" height="9.2" fill="#fff"/>
<text x="528.8" y="131.8">0.9</text>
<rect x="554.5" y="134.2" width="16" height="9.2" fill="#fff"/>
<text x="562.5" y="142.2">0.9</text>
<rect x="590.2" y="152.4" width="16" height="9.2" fill="#fff"/>
<text x="598.2" y="160.5">0.9</text>
<rect x="461.5" y="141.2" width="16" height="9.2" fill="#fff"/>
<text x="469.5" y="149.2">1.3</text>
<rect x="494.5" y="146.7" width="16" height="9.2" fill="#fff"/>
<text x="502.5" y="154.8">1.2</text>
<rect x="529.5" y="157.9" width="16" height="9.2" fill="#fff"/>
<text x="537.5" y="166">1.2</text>
<rect x="564.5" y="172.9" width="16" height="9.2" fill="#fff"/>
<text x="572.5" y="181">1.2</text>
<rect x="598.8" y="192.9" width="16" height="9.2" fill="#fff"/>
<text x="606.8" y="201">1.2</text>
<rect x="400.5" y="161.9" width="16" height="9.2" fill="#fff"/>
<text x="408.5" y="170">1.7</text>
<rect x="435.8" y="164.2" width="16" height="9.2" fill="#fff"/>
<text x="443.8" y="172.2">1.7</text>
<rect x="469.5" y="170.4" width="16" height="9.2" fill="#fff"/>
<text x="477.5" y="178.5">1.7</text>
<rect x="503.5" y="181.7" width="16" height="9.2" fill="#fff"/>
<text x="511.5" y="189.8">1.6</text>
<rect x="538.8" y="195.4" width="16" height="9.2" fill="#fff"/>
<text x="546.8" y="203.5">1.6</text>
<rect x="573.2" y="214.2" width="16" height="9.2" fill="#fff"/>
<text x="581.2" y="222.2">1.7</text>
<rect x="607.5" y="235.2" width="16" height="9.2" fill="#fff"/>
<text x="615.5" y="243.2">1.7</text>
<rect x="374" y="184.9" width="16" height="9.2" fill="#fff"/>
<text x="382" y="193">2.3</text>
<rect x="408.2" y="190.4" width="16" height="9.2" fill="#fff"/>
<text x="416.2" y="198.5">2.3</text>
<rect x="443.2" y="197.9" width="16" height="9.2" fill="#fff"/>
<text x="451.2" y="206">2.3</text>
<rect x="478.2" y="208.2" width="16" height="9.2" fill="#fff"/>
<text x="486.2" y="216.2">2.3</text>
<rect x="513" y="222.2" width="16" height="9.2" fill="#fff"/>
<text x="521" y="230.2">2.3</text>
<rect x="547.5" y="238.7" width="16" height="9.2" fill="#fff"/>
<text x="555.5" y="246.8">2.3</text>
<rect x="582" y="258.1" width="16" height="9.2" fill="#fff"/>
<text x="590" y="266.2">2.3</text>
<rect x="616.5" y="279.1" width="16" height="9.2" fill="#fff"/>
<text x="624.5" y="287.2">2.3</text>
<rect x="317.5" y="203.9" width="16" height="9.2" fill="#fff"/>
<text x="325.5" y="212">3.2</text>
<rect x="352" y="207.2" width="16" height="9.2" fill="#fff"/>
<text x="360" y="215.2">3.2</text>
<rect x="385.8" y="214.9" width="16" height="9.2" fill="#fff"/>
<text x="393.8" y="223">3.2</text>
<rect x="420.8" y="224.7" width="16" height="9.2" fill="#fff"/>
<text x="428.8" y="232.8">3.2</text>
<rect x="455.8" y="235.9" width="16" height="9.2" fill="#fff"/>
<text x="463.8" y="244">3.2</text>
<rect x="490.8" y="248.2" width="16" height="9.2" fill="#fff"/>
<text x="498.8" y="256.2">3.2</text>
<rect x="524.5" y="264.4" width="16" height="9.2" fill="#fff"/>
<text x="532.5" y="272.5">3.2</text>
<rect x="559.5" y="281.6" width="16" height="9.2" fill="#fff"/>
<text x="567.5" y="289.8">3.2</text>
<rect x="594" y="300.4" width="16" height="9.2" fill="#fff"/>
<text x="602" y="308.5">3.2</text>
<rect x="629" y="321.9" width="16" height="9.2" fill="#fff"/>
<text x="637" y="330">3.2</text>
<rect x="663" y="344.9" width="16" height="9.2" fill="#fff"/>
<text x="671" y="353">3.2</text>
<rect x="256.5" y="224.9" width="16" height="9.2" fill="#fff"/>
<text x="264.5" y="233">3.7</text>
<rect x="292" y="230.4" width="16" height="9.2" fill="#fff"/>
<text x="300" y="238.5">3.7</text>
<rect x="325" y="236.7" width="16" height="9.2" fill="#fff"/>
<text x="333" y="244.8">3.7</text>
<rect x="360.8" y="244.2" width="16" height="9.2" fill="#fff"/>
<text x="368.8" y="252.2">3.7</text>
<rect x="394.2" y="253.4" width="16" height="9.2" fill="#fff"/>
<text x="402.2" y="261.5">3.7</text>
<rect x="429.5" y="264.9" width="16" height="9.2" fill="#fff"/>
<text x="437.5" y="273">3.7</text>
<rect x="464.5" y="277.9" width="16" height="9.2" fill="#fff"/>
<text x="472.5" y="286">3.7</text>
<rect x="499.5" y="292.6" width="16" height="9.2" fill="#fff"/>
<text x="507.5" y="300.8">3.7</text>
<rect x="534.5" y="307.9" width="16" height="9.2" fill="#fff"/>
<text x="542.5" y="316">3.7</text>
<rect x="570" y="325.6" width="16" height="9.2" fill="#fff"/>
<text x="578" y="333.8">3.7</text>
<rect x="605" y="344.6" width="16" height="9.2" fill="#fff"/>
<text x="613" y="352.8">3.7</text>
<rect x="639.2" y="365.8" width="16" height="9.2" fill="#fff"/>
<text x="647.2" y="373.9">3.7</text>
<rect x="672.6" y="387.9" width="16" height="9.2" fill="#fff"/>
<text x="680.6" y="396">3.7</text>
<rect x="707" y="410.4" width="16" height="9.2" fill="#fff"/>
<text x="715" y="418.5">3.7</text>
<rect x="232" y="242.4" width="16" height="9.2" fill="#fff"/>
<text x="240" y="250.5">3.9</text>
<rect x="265.8" y="246.7" width="16" height="9.2" fill="#fff"/>
<text x="273.8" y="254.8">3.9</text>
<rect x="299.8" y="254.4" width="16" height="9.2" fill="#fff"/>
<text x="307.8" y="262.5">3.8</text>
<rect x="334.5" y="262.9" width="16" height="9.2" fill="#fff"/>
<text x="342.5" y="271">3.8</text>
<rect x="368.8" y="272.9" width="16" height="9.2" fill="#fff"/>
<text x="376.8" y="281">3.8</text>
<rect x="403.8" y="284.1" width="16" height="9.2" fill="#fff"/>
<text x="411.8" y="292.2">3.8</text>
<rect x="438.8" y="297.1" width="16" height="9.2" fill="#fff"/>
<text x="446.8" y="305.2">3.8</text>
<rect x="473.8" y="311.6" width="16" height="9.2" fill="#fff"/>
<text x="481.8" y="319.8">3.8</text>
<rect x="509.2" y="328.1" width="16" height="9.2" fill="#fff"/>
<text x="517.2" y="336.2">3.8</text>
<rect x="544.5" y="345.4" width="16" height="9.2" fill="#fff"/>
<text x="552.5" y="353.5">3.8</text>
<rect x="578.8" y="364.9" width="16" height="9.2" fill="#fff"/>
<text x="586.8" y="373">3.8</text>
<rect x="613.2" y="386.1" width="16" height="9.2" fill="#fff"/>
<text x="621.2" y="394.2">3.8</text>
<rect x="647.2" y="407.9" width="16" height="9.2" fill="#fff"/>
<text x="655.2" y="416">3.8</text>
<rect x="681.2" y="431.4" width="16" height="9.2" fill="#fff"/>
<text x="689.2" y="439.5">3.8</text>
<rect x="246.5" y="258.6" width="16" height="9.2" fill="#fff"/>
<text x="254.5" y="266.8">3.0</text>
<rect x="280.8" y="263.4" width="16" height="9.2" fill="#fff"/>
<text x="288.8" y="271.5">3.0</text>
<rect x="314.5" y="269.1" width="16" height="9.2" fill="#fff"/>
<text x="322.5" y="277.2">3.0</text>
<rect x="349" y="278.4" width="16" height="9.2" fill="#fff"/>
<text x="357" y="286.5">3.0</text>
<rect x="383.8" y="290.4" width="16" height="9.2" fill="#fff"/>
<text x="391.8" y="298.5">3.0</text>
<rect x="418.2" y="303.4" width="16" height="9.2" fill="#fff"/>
<text x="426.2" y="311.5">3.0</text>
<rect x="452.8" y="318.9" width="16" height="9.2" fill="#fff"/>
<text x="460.8" y="327">3.0</text>
<rect x="487.8" y="337.1" width="16" height="9.2" fill="#fff"/>
<text x="495.8" y="345.2">3.0</text>
<rect x="522" y="356.9" width="16" height="9.2" fill="#fff"/>
<text x="530" y="365">3.0</text>
<rect x="554.5" y="378.4" width="16" height="9.2" fill="#fff"/>
<text x="562.5" y="386.5">3.0</text>
<rect x="589" y="401.6" width="16" height="9.2" fill="#fff"/>
<text x="597" y="409.8">3.0</text>
<rect x="255.8" y="277.4" width="16" height="9.2" fill="#fff"/>
<text x="263.8" y="285.5">2.3</text>
<rect x="289.5" y="282.4" width="16" height="9.2" fill="#fff"/>
<text x="297.5" y="290.5">2.2</text>
<rect x="323.5" y="290.6" width="16" height="9.2" fill="#fff"/>
<text x="331.5" y="298.8">2.2</text>
<rect x="358.2" y="301.6" width="16" height="9.2" fill="#fff"/>
<text x="366.2" y="309.8">2.2</text>
<rect x="392.8" y="315.4" width="16" height="9.2" fill="#fff"/>
<text x="400.8" y="323.5">2.2</text>
<rect x="427" y="332.1" width="16" height="9.2" fill="#fff"/>
<text x="435" y="340.2">2.2</text>
<rect x="461.2" y="352.1" width="16" height="9.2" fill="#fff"/>
<text x="469.2" y="360.2">2.2</text>
<rect x="496.2" y="374.1" width="16" height="9.2" fill="#fff"/>
<text x="504.2" y="382.2">2.2</text>
<rect x="264.5" y="297.1" width="16" height="9.2" fill="#fff"/>
<text x="272.5" y="305.2">1.6</text>
<rect x="298" y="303.9" width="16" height="9.2" fill="#fff"/>
<text x="306" y="312">1.6</text>
<rect x="331.2" y="314.9" width="16" height="9.2" fill="#fff"/>
<text x="339.2" y="323">1.6</text>
<rect x="366.2" y="329.6" width="16" height="9.2" fill="#fff"/>
<text x="374.2" y="337.8">1.6</text>
<rect x="400.8" y="347.9" width="16" height="9.2" fill="#fff"/>
<text x="408.8" y="356">1.6</text>
<rect x="435.2" y="369.6" width="16" height="9.2" fill="#fff"/>
<text x="443.2" y="377.8">1.6</text>
<rect x="237.8" y="315.4" width="16" height="9.2" fill="#fff"/>
<text x="245.8" y="323.5">1.2</text>
<rect x="271.5" y="321.1" width="16" height="9.2" fill="#fff"/>
<text x="279.5" y="329.2">1.2</text>
<rect x="305" y="331.9" width="16" height="9.2" fill="#fff"/>
<text x="313" y="340">1.2</text>
<rect x="339.5" y="347.9" width="16" height="9.2" fill="#fff"/>
<text x="347.5" y="356">1.2</text>
<rect x="373.8" y="368.6" width="16" height="9.2" fill="#fff"/>
<text x="381.8" y="376.8">1.2</text>
<rect x="243.5" y="339.1" width="16" height="9.2" fill="#fff"/>
<text x="251.5" y="347.2">0.9</text>
<rect x="277.5" y="350.4" width="16" height="9.2" fill="#fff"/>
<text x="285.5" y="358.5">0.9</text>
<rect x="312.6" y="368.6" width="16" height="9.2" fill="#fff"/>
<text x="320.6" y="376.8">0.9</text>
<rect x="216.2" y="358.4" width="16" height="9.2" fill="#fff"/>
<text x="224.2" y="366.5">0.7</text>
<rect x="250.8" y="370.4" width="16" height="9.2" fill="#fff"/>
<text x="258.8" y="378.5">0.7</text>
<rect x="190.2" y="378.6" width="16" height="9.2" fill="#fff"/>
<text x="198.2" y="386.8">0.6</text>
<rect x="602.8" y="74.9" width="16" height="9.2" fill="#fff"/>
<text x="610.8" y="83">0.1</text>
<rect x="543.2" y="87.9" width="16" height="9.2" fill="#fff"/>
<text x="551.2" y="96">0.3</text>
<rect x="517" y="108.9" width="16" height="9.2" fill="#fff"/>
<text x="525" y="117">0.2</text>
<rect x="490.2" y="130.4" width="16" height="9.2" fill="#fff"/>
<text x="498.2" y="138.5">0.2</text>
<rect x="430.2" y="150.4" width="16" height="9.2" fill="#fff"/>
<text x="438.2" y="158.5">0.0</text>
<rect x="372" y="171.7" width="16" height="9.2" fill="#fff"/>
<text x="380" y="179.8">0.0</text>
<rect x="345.2" y="193.7" width="16" height="9.2" fill="#fff"/>
<text x="353.2" y="201.8">0.0</text>
<rect x="287" y="214.9" width="16" height="9.2" fill="#fff"/>
<text x="295" y="223">0.0</text>
<rect x="228.2" y="231.7" width="16" height="9.2" fill="#fff"/>
<text x="236.2" y="239.8">0.0</text>
<rect x="577" y="95.4" width="16" height="9.2" fill="#fff"/>
<text x="585" y="103.5">0.0</text>
<rect x="550.8" y="116.2" width="16" height="9.2" fill="#fff"/>
<text x="558.8" y="124.2">0.0</text>
<rect x="584.5" y="132.4" width="16" height="9.2" fill="#fff"/>
<text x="592.5" y="140.5">0.1</text>
<rect x="524.5" y="138.9" width="16" height="9.2" fill="#fff"/>
<text x="532.5" y="147">0.0</text>
<rect x="559" y="152.9" width="16" height="9.2" fill="#fff"/>
<text x="567" y="161">0.1</text>
<rect x="594.5" y="172.2" width="16" height="9.2" fill="#fff"/>
<text x="602.5" y="180.2">0.0</text>
<rect x="464" y="154.9" width="16" height="9.2" fill="#fff"/>
<text x="472" y="163">0.1</text>
<rect x="499" y="162.9" width="16" height="9.2" fill="#fff"/>
<text x="507" y="171">0.0</text>
<rect x="532.2" y="174.9" width="16" height="9.2" fill="#fff"/>
<text x="540.2" y="183">0.1</text>
<rect x="568.2" y="192.9" width="16" height="9.2" fill="#fff"/>
<text x="576.2" y="201">0.0</text>
<rect x="602" y="214.2" width="16" height="9.2" fill="#fff"/>
<text x="610" y="222.2">0.0</text>
<rect x="404.5" y="174.9" width="16" height="9.2" fill="#fff"/>
<text x="412.5" y="183">0.0</text>
<rect x="439" y="180.4" width="16" height="9.2" fill="#fff"/>
<text x="447" y="188.5">0.1</text>
<rect x="472" y="189.2" width="16" height="9.2" fill="#fff"/>
<text x="480" y="197.2">0.0</text>
<rect x="508.8" y="200.9" width="16" height="9.2" fill="#fff"/>
<text x="516.8" y="209">0.0</text>
<rect x="543.2" y="216.7" width="16" height="9.2" fill="#fff"/>
<text x="551.2" y="224.8">0.0</text>
<rect x="577.8" y="235.9" width="16" height="9.2" fill="#fff"/>
<text x="585.8" y="244">0.0</text>
<rect x="612" y="256.6" width="16" height="9.2" fill="#fff"/>
<text x="620" y="264.8">0.0</text>
<rect x="380" y="199.2" width="16" height="9.2" fill="#fff"/>
<text x="388" y="207.2">0.0</text>
<rect x="414.5" y="205.4" width="16" height="9.2" fill="#fff"/>
<text x="422.5" y="213.5">0.0</text>
<rect x="449" y="216.2" width="16" height="9.2" fill="#fff"/>
<text x="457" y="224.2">0.0</text>
<rect x="484.5" y="227.9" width="16" height="9.2" fill="#fff"/>
<text x="492.5" y="236">0.0</text>
<rect x="519.2" y="242.7" width="16" height="9.2" fill="#fff"/>
<text x="527.2" y="250.8">0.0</text>
<rect x="553.2" y="259.9" width="16" height="9.2" fill="#fff"/>
<text x="561.2" y="268">0.0</text>
<rect x="587.8" y="279.1" width="16" height="9.2" fill="#fff"/>
<text x="595.8" y="287.2">0.0</text>
<rect x="622.8" y="299.9" width="16" height="9.2" fill="#fff"/>
<text x="630.8" y="308">0.0</text>
<rect x="320.8" y="217.9" width="16" height="9.2" fill="#fff"/>
<text x="328.8" y="226">0.0</text>
<rect x="355.8" y="226.2" width="16" height="9.2" fill="#fff"/>
<text x="363.8" y="234.2">0.0</text>
<rect x="389.5" y="234.2" width="16" height="9.2" fill="#fff"/>
<text x="397.5" y="242.2">0.0</text>
<rect x="424" y="244.4" width="16" height="9.2" fill="#fff"/>
<text x="432" y="252.5">0.0</text>
<rect x="460" y="256.6" width="16" height="9.2" fill="#fff"/>
<text x="468" y="264.8">0.0</text>
<rect x="494.5" y="270.4" width="16" height="9.2" fill="#fff"/>
<text x="502.5" y="278.5">0.0</text>
<rect x="529" y="285.9" width="16" height="9.2" fill="#fff"/>
<text x="537" y="294">0.0</text>
<rect x="564.5" y="304.1" width="16" height="9.2" fill="#fff"/>
<text x="572.5" y="312.2">0.0</text>
<rect x="599.5" y="322.4" width="16" height="9.2" fill="#fff"/>
<text x="607.5" y="330.5">0.0</text>
<rect x="633.8" y="343.6" width="16" height="9.2" fill="#fff"/>
<text x="641.8" y="351.8">0.0</text>
<rect x="668.8" y="366.1" width="16" height="9.2" fill="#fff"/>
<text x="676.8" y="374.2">0.0</text>
<rect x="262" y="236.2" width="16" height="9.2" fill="#fff"/>
<text x="270" y="244.2">0.0</text>
<rect x="295.8" y="242.4" width="16" height="9.2" fill="#fff"/>
<text x="303.8" y="250.5">0.0</text>
<rect x="329.5" y="249.4" width="16" height="9.2" fill="#fff"/>
<text x="337.5" y="257.5">0.0</text>
<rect x="364.5" y="257.9" width="16" height="9.2" fill="#fff"/>
<text x="372.5" y="266">0.0</text>
<rect x="399.5" y="268.6" width="16" height="9.2" fill="#fff"/>
<text x="407.5" y="276.8">0.0</text>
<rect x="435" y="281.1" width="16" height="9.2" fill="#fff"/>
<text x="443" y="289.2">0.0</text>
<rect x="469.5" y="294.6" width="16" height="9.2" fill="#fff"/>
<text x="477.5" y="302.8">0.0</text>
<rect x="504" y="309.9" width="16" height="9.2" fill="#fff"/>
<text x="512" y="318">0.0</text>
<rect x="539.5" y="326.6" width="16" height="9.2" fill="#fff"/>
<text x="547.5" y="334.8">0.0</text>
<rect x="574.5" y="345.4" width="16" height="9.2" fill="#fff"/>
<text x="582.5" y="353.5">0.0</text>
<rect x="608.8" y="364.9" width="16" height="9.2" fill="#fff"/>
<text x="616.8" y="373">0.0</text>
<rect x="643.8" y="386.1" width="16" height="9.2" fill="#fff"/>
<text x="651.8" y="394.2">0.0</text>
<rect x="677.5" y="409.1" width="16" height="9.2" fill="#fff"/>
<text x="685.5" y="417.2">0.0</text>
<rect x="711.5" y="433.1" width="16" height="9.2" fill="#fff"/>
<text x="719.5" y="441.2">0.0</text>
<rect x="238.2" y="250.4" width="16" height="9.2" fill="#fff"/>
<text x="246.2" y="258.5">0.0</text>
<rect x="272.5" y="255.4" width="16" height="9.2" fill="#fff"/>
<text x="280.5" y="263.5">0.0</text>
<rect x="307" y="261.6" width="16" height="9.2" fill="#fff"/>
<text x="315" y="269.8">0.0</text>
<rect x="340.8" y="270.4" width="16" height="9.2" fill="#fff"/>
<text x="348.8" y="278.5">0.0</text>
<rect x="376.2" y="281.1" width="16" height="9.2" fill="#fff"/>
<text x="384.2" y="289.2">0.0</text>
<rect x="411.2" y="293.6" width="16" height="9.2" fill="#fff"/>
<text x="419.2" y="301.8">0.0</text>
<rect x="446.2" y="307.4" width="16" height="9.2" fill="#fff"/>
<text x="454.2" y="315.5">0.0</text>
<rect x="480.8" y="323.6" width="16" height="9.2" fill="#fff"/>
<text x="488.8" y="331.8">0.0</text>
<rect x="515.5" y="340.9" width="16" height="9.2" fill="#fff"/>
<text x="523.5" y="349">0.0</text>
<rect x="549.5" y="361.1" width="16" height="9.2" fill="#fff"/>
<text x="557.5" y="369.2">0.0</text>
<rect x="583.8" y="382.4" width="16" height="9.2" fill="#fff"/>
<text x="591.8" y="390.5">0.0</text>
<rect x="617.8" y="404.9" width="16" height="9.2" fill="#fff"/>
<text x="625.8" y="413">0.0</text>
<rect x="250.8" y="267.1" width="16" height="9.2" fill="#fff"/>
<text x="258.8" y="275.2">0.0</text>
<rect x="284.5" y="272.1" width="16" height="9.2" fill="#fff"/>
<text x="292.5" y="280.2">0.0</text>
<rect x="319.5" y="280.1" width="16" height="9.2" fill="#fff"/>
<text x="327.5" y="288.2">0.0</text>
<rect x="353.2" y="289.1" width="16" height="9.2" fill="#fff"/>
<text x="361.2" y="297.2">0.0</text>
<rect x="388.2" y="301.6" width="16" height="9.2" fill="#fff"/>
<text x="396.2" y="309.8">0.1</text>
<rect x="422.8" y="317.4" width="16" height="9.2" fill="#fff"/>
<text x="430.8" y="325.5">0.0</text>
<rect x="457" y="334.6" width="16" height="9.2" fill="#fff"/>
<text x="465" y="342.8">0.0</text>
<rect x="491.2" y="353.4" width="16" height="9.2" fill="#fff"/>
<text x="499.2" y="361.5">0.0</text>
<rect x="525.8" y="375.6" width="16" height="9.2" fill="#fff"/>
<text x="533.8" y="383.8">0.0</text>
<rect x="259.5" y="287.1" width="16" height="9.2" fill="#fff"/>
<text x="267.5" y="295.2">0.0</text>
<rect x="293.2" y="292.9" width="16" height="9.2" fill="#fff"/>
<text x="301.2" y="301">0.0</text>
<rect x="327.2" y="301.6" width="16" height="9.2" fill="#fff"/>
<text x="335.2" y="309.8">0.1</text>
<rect x="362" y="314.9" width="16" height="9.2" fill="#fff"/>
<text x="370" y="323">0.0</text>
<rect x="396.5" y="330.4" width="16" height="9.2" fill="#fff"/>
<text x="404.5" y="338.5">0.0</text>
<rect x="430.8" y="349.6" width="16" height="9.2" fill="#fff"/>
<text x="438.8" y="357.8">0.0</text>
<rect x="465" y="371.6" width="16" height="9.2" fill="#fff"/>
<text x="473" y="379.8">0.0</text>
<rect x="233.2" y="304.9" width="16" height="9.2" fill="#fff"/>
<text x="241.2" y="313">0.0</text>
<rect x="267" y="307.9" width="16" height="9.2" fill="#fff"/>
<text x="275" y="316">0.1</text>
<rect x="299.5" y="316.1" width="16" height="9.2" fill="#fff"/>
<text x="307.5" y="324.2">0.1</text>
<rect x="335.8" y="329.1" width="16" height="9.2" fill="#fff"/>
<text x="343.8" y="337.2">0.0</text>
<rect x="369.5" y="347.1" width="16" height="9.2" fill="#fff"/>
<text x="377.5" y="355.2">0.0</text>
<rect x="403.8" y="367.9" width="16" height="9.2" fill="#fff"/>
<text x="411.8" y="376">0.0</text>
<rect x="239.8" y="325.9" width="16" height="9.2" fill="#fff"/>
<text x="247.8" y="334">0.2</text>
<rect x="273" y="333.9" width="16" height="9.2" fill="#fff"/>
<text x="281" y="342">0.1</text>
<rect x="307.8" y="348.9" width="16" height="9.2" fill="#fff"/>
<text x="315.8" y="357">0.1</text>
<rect x="342.8" y="367.9" width="16" height="9.2" fill="#fff"/>
<text x="350.8" y="376">0.0</text>
<rect x="212" y="344.1" width="16" height="9.2" fill="#fff"/>
<text x="220" y="352.2">0.2</text>
<rect x="246.2" y="351.6" width="16" height="9.2" fill="#fff"/>
<text x="254.2" y="359.8">0.1</text>
<rect x="280" y="368.6" width="16" height="9.2" fill="#fff"/>
<text x="288" y="376.8">0.1</text>
<rect x="185.8" y="364.4" width="16" height="9.2" fill="#fff"/>
<text x="193.8" y="372.5">0.2</text>
<rect x="219.5" y="371.6" width="16" height="9.2" fill="#fff"/>
<text x="227.5" y="379.8">0.1</text>
<rect x="193.8" y="393.4" width="16" height="9.2" fill="#fff"/>
<text x="201.8" y="401.5">0.2</text>
<rect x="210" y="222.4" width="16" height="9.2" fill="#fff"/>
<text x="218" y="230.5">9.5</text>
<rect x="257" y="208.7" width="16" height="9.2" fill="#fff"/>
<text x="265" y="216.8">8.5</text>
<rect x="301.5" y="194.2" width="16" height="9.2" fill="#fff"/>
<text x="309.5" y="202.2">7.2</text>
<rect x="346" y="177.9" width="16" height="9.2" fill="#fff"/>
<text x="354" y="186">6.6</text>
<rect x="388.5" y="159.4" width="16" height="9.2" fill="#fff"/>
<text x="396.5" y="167.5">6.1</text>
<rect x="434" y="139.2" width="16" height="9.2" fill="#fff"/>
<text x="442" y="147.2">5.7</text>
<rect x="474.5" y="119.2" width="16" height="9.2" fill="#fff"/>
<text x="482.5" y="127.2">5.4</text>
<rect x="514.5" y="97.9" width="16" height="9.2" fill="#fff"/>
<text x="522.5" y="106">5.3</text>
<rect x="552.8" y="76.7" width="16" height="9.2" fill="#fff"/>
<text x="560.8" y="84.8">5.2</text>
<rect x="590" y="54.1" width="16" height="9.2" fill="#fff"/>
<text x="598" y="62.2">5.2</text>
<rect x="625.8" y="31.6" width="16" height="9.2" fill="#fff"/>
<text x="633.8" y="39.8">5.2</text>
<rect x="196" y="233.9" width="16" height="9.2" fill="#fff"/>
<text x="204" y="242">9.8</text>
<rect x="207.5" y="246.4" width="16" height="9.2" fill="#fff"/>
<text x="215.5" y="254.5">8.4</text>
<rect x="216.5" y="260.1" width="16" height="9.2" fill="#fff"/>
<text x="224.5" y="268.2">7.5</text>
<rect x="218.5" y="276.1" width="16" height="9.2" fill="#fff"/>
<text x="226.5" y="284.2">6.8</text>
<rect x="217.5" y="292.9" width="16" height="9.2" fill="#fff"/>
<text x="225.5" y="301">6.3</text>
<rect x="212" y="310.9" width="16" height="9.2" fill="#fff"/>
<text x="220" y="319">5.9</text>
<rect x="202" y="330.1" width="16" height="9.2" fill="#fff"/>
<text x="210" y="338.2">5.6</text>
<rect x="188.8" y="350.4" width="16" height="9.2" fill="#fff"/>
<text x="196.8" y="358.5">5.5</text>
<rect x="172.5" y="371.1" width="16" height="9.2" fill="#fff"/>
<text x="180.5" y="379.2">5.4</text>
<rect x="153.2" y="392.4" width="16" height="9.2" fill="#fff"/>
<text x="161.2" y="400.5">5.4</text>
<rect x="130.8" y="412.9" width="16" height="9.2" fill="#fff"/>
<text x="138.8" y="421">5.3</text>
<rect x="637" y="32.9" width="16" height="9.2" fill="#fff"/>
<text x="645" y="41">4.1</text>
<rect x="630.2" y="60.9" width="16" height="9.2" fill="#fff"/>
<text x="638.2" y="69">4.2</text>
<rect x="625.2" y="88.7" width="16" height="9.2" fill="#fff"/>
<text x="633.2" y="96.8">4.3</text>
<rect x="622.8" y="116.2" width="16" height="9.2" fill="#fff"/>
<text x="630.8" y="124.2">4.3</text>
<rect x="622" y="145.4" width="16" height="9.2" fill="#fff"/>
<text x="630" y="153.5">4.5</text>
<rect x="623.5" y="173.9" width="16" height="9.2" fill="#fff"/>
<text x="631.5" y="182">4.7</text>
<rect x="627.8" y="204.2" width="16" height="9.2" fill="#fff"/>
<text x="635.8" y="212.2">4.9</text>
<rect x="635.2" y="235.4" width="16" height="9.2" fill="#fff"/>
<text x="643.2" y="243.5">5.3</text>
<rect x="645.2" y="266.1" width="16" height="9.2" fill="#fff"/>
<text x="653.2" y="274.2">5.8</text>
<rect x="657" y="297.4" width="16" height="9.2" fill="#fff"/>
<text x="665" y="305.5">6.1</text>
<rect x="672.2" y="328.9" width="16" height="9.2" fill="#fff"/>
<text x="680.2" y="337">6.9</text>
<rect x="690.8" y="360.4" width="16" height="9.2" fill="#fff"/>
<text x="698.8" y="368.5">7.4</text>
<rect x="709.5" y="391.4" width="16" height="9.2" fill="#fff"/>
<text x="717.5" y="399.5">8.4</text>
<rect x="728.8" y="420.9" width="16" height="9.2" fill="#fff"/>
<text x="736.8" y="429">8.6</text>
<rect x="751" y="452.4" width="21.5" height="9.2" fill="#fff"/>
<text x="761.8" y="460.5">10.2</text>
<rect x="140.2" y="418.4" width="16" height="9.2" fill="#fff"/>
<text x="148.2" y="426.5">4.3</text>
<rect x="180.8" y="408.6" width="16" height="9.2" fill="#fff"/>
<text x="188.8" y="416.8">4.3</text>
<rect x="222" y="400.4" width="16" height="9.2" fill="#fff"/>
<text x="230" y="408.5">4.4</text>
<rect x="264.5" y="392.9" width="16" height="9.2" fill="#fff"/>
<text x="272.5" y="401">4.5</text>
<rect x="307.8" y="388.4" width="16" height="9.2" fill="#fff"/>
<text x="315.8" y="396.5">4.7</text>
<rect x="351.2" y="386.6" width="16" height="9.2" fill="#fff"/>
<text x="359.2" y="394.8">4.9</text>
<rect x="394.5" y="386.1" width="16" height="9.2" fill="#fff"/>
<text x="402.5" y="394.2">5.1</text>
<rect x="437" y="387.4" width="16" height="9.2" fill="#fff"/>
<text x="445" y="395.5">5.4</text>
<rect x="484" y="392.4" width="16" height="9.2" fill="#fff"/>
<text x="492" y="400.5">6.0</text>
<rect x="527.5" y="399.6" width="16" height="9.2" fill="#fff"/>
<text x="535.5" y="407.8">6.4</text>
<rect x="571.5" y="408.4" width="16" height="9.2" fill="#fff"/>
<text x="579.5" y="416.5">7.0</text>
<rect x="616.2" y="418.6" width="16" height="9.2" fill="#fff"/>
<text x="624.2" y="426.8">7.8</text>
<rect x="658.2" y="430.6" width="16" height="9.2" fill="#fff"/>
<text x="666.2" y="438.8">8.3</text>
<rect x="701.5" y="444.6" width="16" height="9.2" fill="#fff"/>
<text x="709.5" y="452.8">9.2</text>
<rect x="741" y="459.6" width="21.5" height="9.2" fill="#fff"/>
<text x="751.8" y="467.8">10.1</text>
<rect x="173" y="228.2" width="21.5" height="9.2" fill="#fff"/>
<text x="183.8" y="236.2">17.4</text>
<rect x="651.5" y="10.4" width="16" height="9.2" fill="#fff"/>
<text x="659.5" y="18.5">8.9</text>
<rect x="109" y="429.9" width="16" height="9.2" fill="#fff"/>
<text x="117" y="438">9.2</text>
<rect x="775.5" y="477.6" width="21.5" height="9.2" fill="#fff"/>
<text x="786.2" y="485.8">19.0</text>
</g>
<g id="legend">
<rect x="510" y="565.05" width="391.5" height="149.75" rx="0.8" fill="#fff" stroke="#383838" stroke-width="1.4"/>
<defs>
<linearGradient id="lg0" x1="0" y1="0" x2="1" y2="0"><stop offset="0" stop-color="#ff8000"/><stop offset="0.06" stop-color="#ff8000"/><stop offset="0.06" stop-color="#ff7700"/><stop offset="0.12" stop-color="#ff7700"/><stop offset="0.12" stop-color="#ff6f00"/><stop offset="0.19" stop-color="#ff6f00"/><stop offset="0.19" stop-color="#ff6600"/><stop offset="0.25" stop-color="#ff6600"/><stop offset="0.25" stop-color="#ff5e00"/><stop offset="0.31" stop-color="#ff5e00"/><stop offset="0.31" stop-color="#ff5500"/><stop offset="0.38" stop-color="#ff5500"/><stop offset="0.38" stop-color="#ff4d00"/><stop offset="0.44" stop-color="#ff4d00"/><stop offset="0.44" stop-color="#ff4400"/><stop offset="0.5" stop-color="#ff4400"/><stop offset="0.5" stop-color="#ff3c00"/><stop offset="0.56" stop-color="#ff3c00"/><stop offset="0.56" stop-color="#ff3300"/><stop offset="0.62" stop-color="#ff3300"/><stop offset="0.62" stop-color="#ff2b00"/><stop offset="0.69" stop-color="#ff2b00"/><stop offset="0.69" stop-color="#ff2200"/><stop offset="0.75" stop-color="#ff2200"/><stop offset="0.75" stop-color="#ff1a00"/><stop offset="0.81" stop-color="#ff1a00"/><stop offset="0.81" stop-color="#ff1100"/><stop offset="0.88" stop-color="#ff1100"/><stop offset="0.88" stop-color="#ff0900"/><stop offset="0.94" stop-color="#ff0900"/><stop offset="0.94" stop-color="#ff0000"/><stop offset="1" stop-color="#ff0000"/></linearGradient>
<linearGradient id="lg1" x1="0" y1="0" x2="1" y2="0"><stop offset="0" stop-color="#ffff00"/><stop offset="0.06" stop-color="#ffff00"/><stop offset="0.06" stop-color="#fff700"/><stop offset="0.12" stop-color="#fff700"/><stop offset="0.12" stop-color="#ffee00"/><stop offset="0.19" stop-color="#ffee00"/><stop offset="0.19" stop-color="#ffe600"/><stop offset="0.25" stop-color="#ffe600"/><stop offset="0.25" stop-color="#ffdd00"/><stop offset="0.31" stop-color="#ffdd00"/><stop offset="0.31" stop-color="#ffd500"/><stop offset="0.38" stop-color="#ffd500"/><stop offset="0.38" stop-color="#ffcc00"/><stop offset="0.44" stop-color="#ffcc00"/><stop offset="0.44" stop-color="#ffc400"/><stop offset="0.5" stop-color="#ffc400"/><stop offset="0.5" stop-color="#ffbb00"/><stop offset="0.56" stop-color="#ffbb00"/><stop offset="0.56" stop-color="#ffb300"/><stop offset="0.62" stop-color="#ffb300"/><stop offset="0.62" stop-color="#ffaa00"/><stop offset="0.69" stop-color="#ffaa00"/><stop offset="0.69" stop-color="#ffa200"/><stop offset="0.75" stop-color="#ffa200"/><stop offset="0.75" stop-color="#ff9900"/><stop offset="0.81" stop-color="#ff9900"/><stop offset="0.81" stop-color="#ff9100"/><stop offset="0.88" stop-color="#ff9100"/><stop offset="0.88" stop-color="#ff8800"/><stop offset="0.94" stop-color="#ff8800"/><stop offset="0.94" stop-color="#ff8000"/><stop offset="1" stop-color="#ff8000"/></linearGradient>
<linearGradient id="lg2" x1="0" y1="0" x2="1" y2="0"><stop offset="0" stop-color="#80ff00"/><stop offset="0.06" stop-color="#80ff00"/><stop offset="0.06" stop-color="#88ff00"/><stop offset="0.12" stop-color="#88ff00"/><stop offset="0.12" stop-color="#91ff00"/><stop offset="0.19" stop-color="#91ff00"/><stop offset="0.19" stop-color="#99ff00"/><stop offset="0.25" stop-color="#99ff00"/><stop offset="0.25" stop-color="#a2ff00"/><stop offset="0.31" stop-color="#a2ff00"/><stop offset="0.31" stop-color="#aaff00"/><stop offset="0.38" stop-color="#aaff00"/><stop offset="0.38" stop-color="#b3ff00"/><stop offset="0.44" stop-color="#b3ff00"/><stop offset="0.44" stop-color="#bbff00"/><stop offset="0.5" stop-color="#bbff00"/><stop offset="0.5" stop-color="#c4ff00"/><stop offset="0.56" stop-color="#c4ff00"/><stop offset="0.56" stop-color="#ccff00"/><stop offset="0.62" stop-color="#ccff00"/><stop offset="0.62" stop-color="#d5ff00"/><stop offset="0.69" stop-color="#d5ff00"/><stop offset="0.69" stop-color="#ddff00"/><stop offset="0.75" stop-color="#ddff00"/><stop offset="0.75" stop-color="#e6ff00"/><stop offset="0.81" stop-color="#e6ff00"/><stop offset="0.81" stop-color="#eeff00"/><stop offset="0.88" stop-color="#eeff00"/><stop offset="0.88" stop-color="#f7ff00"/><stop offset="0.94" stop-color="#f7ff00"/><stop offset="0.94" stop-color="#ffff00"/><stop offset="1" stop-color="#ffff00"/></linearGradient>
<linearGradient id="lg3" x1="0" y1="0" x2="1" y2="0"><stop offset="0" stop-color="#00ff00"/><stop offset="0.06" stop-color="#00ff00"/><stop offset="0.06" stop-color="#09ff00"/><stop offset="0.12" stop-color="#09ff00"/><stop offset="0.12" stop-color="#11ff00"/><stop offset="0.19" stop-color="#11ff00"/><stop offset="0.19" stop-color="#1aff00"/><stop offset="0.25" stop-color="#1aff00"/><stop offset="0.25" stop-color="#22ff00"/><stop offset="0.31" stop-color="#22ff00"/><stop offset="0.31" stop-color="#2bff00"/><stop offset="0.38" stop-color="#2bff00"/><stop offset="0.38" stop-color="#33ff00"/><stop offset="0.44" stop-color="#33ff00"/><stop offset="0.44" stop-color="#3cff00"/><stop offset="0.5" stop-color="#3cff00"/><stop offset="0.5" stop-color="#44ff00"/><stop offset="0.56" stop-color="#44ff00"/><stop offset="0.56" stop-color="#4dff00"/><stop offset="0.62" stop-color="#4dff00"/><stop offset="0.62" stop-color="#55ff00"/><stop offset="0.69" stop-color="#55ff00"/><stop offset="0.69" stop-color="#5eff00"/><stop offset="0.75" stop-color="#5eff00"/><stop offset="0.75" stop-color="#66ff00"/><stop offset="0.81" stop-color="#66ff00"/><stop offset="0.81" stop-color="#6fff00"/><stop offset="0.88" stop-color="#6fff00"/><stop offset="0.88" stop-color="#77ff00"/><stop offset="0.94" stop-color="#77ff00"/><stop offset="0.94" stop-color="#80ff00"/><stop offset="1" stop-color="#80ff00"/></linearGradient>
<linearGradient id="lg4" x1="0" y1="0" x2="1" y2="0"><stop offset="0" stop-color="#008080"/><stop offset="0.06" stop-color="#008080"/><stop offset="0.06" stop-color="#008877"/><stop offset="0.12" stop-color="#008877"/><stop offset="0.12" stop-color="#00916f"/><stop offset="0.19" stop-color="#00916f"/><stop offset="0.19" stop-color="#009966"/><stop offset="0.25" stop-color="#009966"/><stop offset="0.25" stop-color="#00a25e"/><stop offset="0.31" stop-color="#00a25e"/><stop offset="0.31" stop-color="#00aa55"/><stop offset="0.38" stop-color="#00aa55"/><stop offset="0.38" stop-color="#00b34d"/><stop offset="0.44" stop-color="#00b34d"/><stop offset="0.44" stop-color="#00bb44"/><stop offset="0.5" stop-color="#00bb44"/><stop offset="0.5" stop-color="#00c43c"/><stop offset="0.56" stop-color="#00c43c"/><stop offset="0.56" stop-color="#00cc33"/><stop offset="0.62" stop-color="#00cc33"/><stop offset="0.62" stop-color="#00d52b"/><stop offset="0.69" stop-color="#00d52b"/><stop offset="0.69" stop-color="#00dd22"/><stop offset="0.75" stop-color="#00dd22"/><stop offset="0.75" stop-color="#00e61a"/><stop offset="0.81" stop-color="#00e61a"/><stop offset="0.81" stop-color="#00ee11"/><stop offset="0.88" stop-color="#00ee11"/><stop offset="0.88" stop-color="#00f709"/><stop offset="0.94" stop-color="#00f709"/><stop offset="0.94" stop-color="#00ff00"/><stop offset="1" stop-color="#00ff00"/></linearGradient>
<linearGradient id="lg5" x1="0" y1="0" x2="1" y2="0"><stop offset="0" stop-color="#0000ff"/><stop offset="0.06" stop-color="#0000ff"/><stop offset="0.06" stop-color="#0009f7"/><stop offset="0.12" stop-color="#0009f7"/><stop offset="0.12" stop-color="#0011ee"/><stop offset="0.19" stop-color="#0011ee"/><stop offset="0.19" stop-color="#001ae6"/><stop offset="0.25" stop-color="#001ae6"/><stop offset="0.25" stop-color="#0022dd"/><stop offset="0.31" stop-color="#0022dd"/><stop offset="0.31" stop-color="#002bd5"/><stop offset="0.38" stop-color="#002bd5"/><stop offset="0.38" stop-color="#0033cc"/><stop offset="0.44" stop-color="#0033cc"/><stop offset="0.44" stop-color="#003cc4"/><stop offset="0.5" stop-color="#003cc4"/><stop offset="0.5" stop-color="#0044bb"/><stop offset="0.56" stop-color="#0044bb"/><stop offset="0.56" stop-color="#004db3"/><stop offset="0.62" stop-color="#004db3"/><stop offset="0.62" stop-color="#0055aa"/><stop offset="0.69" stop-color="#0055aa"/><stop offset="0.69" stop-color="#005ea2"/><stop offset="0.75" stop-color="#005ea2"/><stop offset="0.75" stop-color="#006699"/><stop offset="0.81" stop-color="#006699"/><stop offset="0.81" stop-color="#006f91"/><stop offset="0.88" stop-color="#006f91"/><stop offset="0.88" stop-color="#007788"/><stop offset="0.94" stop-color="#007788"/><stop offset="0.94" stop-color="#008080"/><stop offset="1" stop-color="#008080"/></linearGradient>
</defs>
<rect x="514.25" y="590.5" width="73.25" height="14" fill="url(#lg0)"/>
<rect x="514.25" y="610.55" width="73.25" height="14" fill="url(#lg1)"/>
<rect x="514.25" y="630.6" width="73.25" height="14" fill="url(#lg2)"/>
<rect x="514.25" y="650.65" width="73.25" height="14" fill="url(#lg3)"/>
<rect x="514.25" y="670.7" width="73.25" height="14" fill="url(#lg4)"/>
<rect x="514.25" y="690.75" width="73.25" height="14" fill="url(#lg5)"/>
<rect x="705.75" y="590.5" width="73.25" height="14" fill="url(#lg0)"/>
<rect x="705.75" y="610.55" width="73.25" height="14" fill="url(#lg1)"/>
<rect x="705.75" y="630.6" width="73.25" height="14" fill="url(#lg2)"/>
<rect x="705.75" y="650.65" width="73.25" height="14" fill="url(#lg3)"/>
<rect x="705.75" y="670.7" width="73.25" height="14" fill="url(#lg4)"/>
<rect x="705.75" y="690.75" width="73.25" height="14" fill="url(#lg5)"/>
<g font-family="Liberation Sans, sans-serif" font-size="12" fill="#111">
<text x="514.5" y="578.8" textLength="162" lengthAdjust="spacingAndGlyphs">Membrane Stress (force/width)</text>
<text x="705.5" y="578.8" textLength="101.5" lengthAdjust="spacingAndGlyphs">Cable Force (force)</text>
<text x="602" y="598.9">3.22 - 3.87</text>
<text x="793.5" y="598.9">16.52 - 19.01</text>
<text x="602" y="618.95">2.58 - 3.22</text>
<text x="793.5" y="618.95">14.03 - 16.52</text>
<text x="602" y="639">1.94 - 2.58</text>
<text x="793.5" y="639">11.54 - 14.03</text>
<text x="602" y="659.05">1.29 - 1.94</text>
<text x="793.5" y="659.05">9.06 - 11.54</text>
<text x="602" y="679.1">0.64 - 1.29</text>
<text x="793.5" y="679.1">6.57 - 9.06</text>
<text x="602" y="699.15">0.00 - 0.64</text>
<text x="793.5" y="699.15">4.08 - 6.57</text>
</g></g>
<g id="axes">
<polyline points="102,703.8 50,664" fill="none" stroke="#0a6e0a" stroke-width="1.3"/>
<polygon points="35,654.5 53.5,662.2 49.5,668.5" fill="#0a6e0a"/>
<polyline points="102,703.8 170,673" fill="none" stroke="#ee1111" stroke-width="1.3"/>
<polygon points="186.2,666.2 167.5,670.2 170.2,677.5" fill="#e01010"/>
<polyline points="102,703.8 102,638" fill="none" stroke="#0000ff" stroke-width="1.6"/>
<polygon points="102,620.5 106.3,640 97.7,640" fill="#0000ff"/>
<circle cx="102" cy="714.5" r="4.6" fill="#ff0000"/>
<g font-family="Liberation Sans, sans-serif" font-size="10.5">
<text x="98.6" y="614.3" fill="#3a3ac8">Z</text>
<text x="26.3" y="654.5" fill="#2f8a2f">Y</text>
<text x="190.8" y="666.3" fill="#a03030">X</text>
</g></g>
<text x="920" y="11" font-family="Liberation Sans, sans-serif" font-size="8" fill="#333" textLength="34.5">Isometric</text>
</svg>
</body></html>
